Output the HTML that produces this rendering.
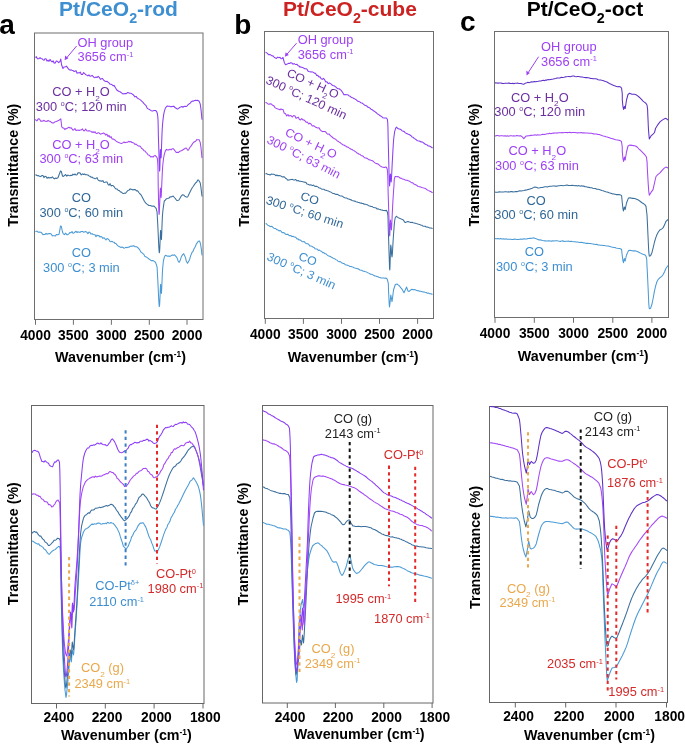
<!DOCTYPE html>
<html><head><meta charset="utf-8"><title>IR spectra</title>
<style>
html,body{margin:0;padding:0;background:#fff;width:685px;height:744px;overflow:hidden;}
svg{display:block;font-family:"Liberation Sans",sans-serif;will-change:transform;}
</style></head><body>
<svg width="685" height="744" viewBox="0 0 685 744" font-family="Liberation Sans, sans-serif">
<rect width="685" height="744" fill="#fff"/>
<text x="118.5" y="16.2" font-size="21" fill="#3d8fd1" text-anchor="middle" font-weight="bold"><tspan>Pt/CeO</tspan><tspan font-size="14.28" dy="6.51">2</tspan><tspan dy="-6.51">-rod</tspan></text>
<text x="349.9" y="16.2" font-size="21" fill="#cc2222" text-anchor="middle" font-weight="bold"><tspan>Pt/CeO</tspan><tspan font-size="14.28" dy="6.51">2</tspan><tspan dy="-6.51">-cube</tspan></text>
<text x="585" y="16.2" font-size="21" fill="#000" text-anchor="middle" font-weight="bold"><tspan>Pt/CeO</tspan><tspan font-size="14.28" dy="6.51">2</tspan><tspan dy="-6.51">-oct</tspan></text>
<text x="-0.8" y="33.9" font-size="28" fill="#000" text-anchor="start" font-weight="bold"><tspan>a</tspan></text>
<text x="234.3" y="33.6" font-size="28" fill="#000" text-anchor="start" font-weight="bold"><tspan>b</tspan></text>
<text x="460" y="31.4" font-size="28" fill="#000" text-anchor="start" font-weight="bold"><tspan>c</tspan></text>
<rect x="34.5" y="33" width="168.5" height="286.5" fill="none" stroke="#6e6e6e" stroke-width="1"/>
<line x1="35.5" y1="319.5" x2="35.5" y2="324.8" stroke="#6e6e6e" stroke-width="1"/>
<text x="35.5" y="340.1" font-size="13.8" fill="#000" text-anchor="middle" font-weight="bold"><tspan>4000</tspan></text>
<line x1="73.4" y1="319.5" x2="73.4" y2="324.8" stroke="#6e6e6e" stroke-width="1"/>
<text x="73.4" y="340.1" font-size="13.8" fill="#000" text-anchor="middle" font-weight="bold"><tspan>3500</tspan></text>
<line x1="111.4" y1="319.5" x2="111.4" y2="324.8" stroke="#6e6e6e" stroke-width="1"/>
<text x="111.4" y="340.1" font-size="13.8" fill="#000" text-anchor="middle" font-weight="bold"><tspan>3000</tspan></text>
<line x1="149.3" y1="319.5" x2="149.3" y2="324.8" stroke="#6e6e6e" stroke-width="1"/>
<text x="149.3" y="340.1" font-size="13.8" fill="#000" text-anchor="middle" font-weight="bold"><tspan>2500</tspan></text>
<line x1="187" y1="319.5" x2="187" y2="324.8" stroke="#6e6e6e" stroke-width="1"/>
<text x="187" y="340.1" font-size="13.8" fill="#000" text-anchor="middle" font-weight="bold"><tspan>2000</tspan></text>
<text x="120.5" y="362.2" font-size="14.3" fill="#000" text-anchor="middle" font-weight="bold"><tspan>Wavenumber (cm</tspan><tspan font-size="8.29" dy="-5.15">-1</tspan><tspan dy="5.15">)</tspan></text>
<text transform="translate(18.2 165.2) rotate(-90)" font-size="14.3" fill="#000" text-anchor="middle" font-weight="bold"><tspan>Transmittance (%)</tspan></text>
<rect x="264.5" y="31.5" width="169" height="287" fill="none" stroke="#6e6e6e" stroke-width="1"/>
<line x1="265.3" y1="318.5" x2="265.3" y2="323.8" stroke="#6e6e6e" stroke-width="1"/>
<text x="265.3" y="339.1" font-size="13.8" fill="#000" text-anchor="middle" font-weight="bold"><tspan>4000</tspan></text>
<line x1="303.4" y1="318.5" x2="303.4" y2="323.8" stroke="#6e6e6e" stroke-width="1"/>
<text x="303.4" y="339.1" font-size="13.8" fill="#000" text-anchor="middle" font-weight="bold"><tspan>3500</tspan></text>
<line x1="341.5" y1="318.5" x2="341.5" y2="323.8" stroke="#6e6e6e" stroke-width="1"/>
<text x="341.5" y="339.1" font-size="13.8" fill="#000" text-anchor="middle" font-weight="bold"><tspan>3000</tspan></text>
<line x1="379.5" y1="318.5" x2="379.5" y2="323.8" stroke="#6e6e6e" stroke-width="1"/>
<text x="379.5" y="339.1" font-size="13.8" fill="#000" text-anchor="middle" font-weight="bold"><tspan>2500</tspan></text>
<line x1="417.6" y1="318.5" x2="417.6" y2="323.8" stroke="#6e6e6e" stroke-width="1"/>
<text x="417.6" y="339.1" font-size="13.8" fill="#000" text-anchor="middle" font-weight="bold"><tspan>2000</tspan></text>
<text x="353.2" y="362" font-size="14.3" fill="#000" text-anchor="middle" font-weight="bold"><tspan>Wavenumber (cm</tspan><tspan font-size="8.29" dy="-5.15">-1</tspan><tspan dy="5.15">)</tspan></text>
<text transform="translate(248.6 165.1) rotate(-90)" font-size="14.3" fill="#000" text-anchor="middle" font-weight="bold"><tspan>Transmittance (%)</tspan></text>
<rect x="494.5" y="31.5" width="174" height="286" fill="none" stroke="#6e6e6e" stroke-width="1"/>
<line x1="495" y1="317.5" x2="495" y2="322.8" stroke="#6e6e6e" stroke-width="1"/>
<text x="495" y="338.3" font-size="13.8" fill="#000" text-anchor="middle" font-weight="bold"><tspan>4000</tspan></text>
<line x1="534.3" y1="317.5" x2="534.3" y2="322.8" stroke="#6e6e6e" stroke-width="1"/>
<text x="534.3" y="338.3" font-size="13.8" fill="#000" text-anchor="middle" font-weight="bold"><tspan>3500</tspan></text>
<line x1="573.5" y1="317.5" x2="573.5" y2="322.8" stroke="#6e6e6e" stroke-width="1"/>
<text x="573.5" y="338.3" font-size="13.8" fill="#000" text-anchor="middle" font-weight="bold"><tspan>3000</tspan></text>
<line x1="612.8" y1="317.5" x2="612.8" y2="322.8" stroke="#6e6e6e" stroke-width="1"/>
<text x="612.8" y="338.3" font-size="13.8" fill="#000" text-anchor="middle" font-weight="bold"><tspan>2500</tspan></text>
<line x1="651.9" y1="317.5" x2="651.9" y2="322.8" stroke="#6e6e6e" stroke-width="1"/>
<text x="651.9" y="338.3" font-size="13.8" fill="#000" text-anchor="middle" font-weight="bold"><tspan>2000</tspan></text>
<text x="583.2" y="361.1" font-size="14.3" fill="#000" text-anchor="middle" font-weight="bold"><tspan>Wavenumber (cm</tspan><tspan font-size="8.29" dy="-5.15">-1</tspan><tspan dy="5.15">)</tspan></text>
<text transform="translate(479.2 165) rotate(-90)" font-size="14.3" fill="#000" text-anchor="middle" font-weight="bold"><tspan>Transmittance (%)</tspan></text>
<path d="M35.5 231.7 L36.19 231.27 L37.13 231.24 L38.25 232.29 L39.48 232.06 L40.75 232.19 L42 233.26 L42.94 234.67 L43.93 234.53 L44.96 234.58 L46.01 233.4 L47.06 234.27 L48.08 233.75 L49.07 233.61 L50 233.55 L51.19 233.97 L52.36 235.85 L53.48 235.78 L54.53 235.85 L55.48 235.92 L56.3 234.46 L57.95 234.69 L59 234.3 L59.87 229.94 L60.5 226 L61.3 226.26 L62.5 232 L63.34 233.83 L64.4 234.62 L65.59 233.2 L66.8 234.65 L67.77 234.69 L68.78 233.92 L69.82 232.63 L70.89 232.83 L72 231.51 L72.97 233.31 L74 232.93 L75.04 231.98 L76.08 231.23 L77.08 232.57 L78 231.67 L79.16 232.35 L80.16 232.26 L81.2 231.53 L82.5 231.49 L83.43 232.11 L84.47 231.93 L85.58 231.54 L86.73 232.16 L87.88 233.67 L88.98 232.12 L90 232.41 L91.1 234.13 L92.15 233.64 L93.16 234.6 L94.13 234.79 L95.08 234.82 L96 236.69 L97.03 235.08 L97.98 235.85 L98.9 235.6 L99.89 236.93 L101 236.46 L101.9 237 L102.85 238.33 L103.86 237.72 L104.9 238.74 L105.94 240.03 L106.98 238.57 L108 238.95 L109 239.82 L110 241.59 L111 241.72 L112 241.31 L113 242.04 L114 242.2 L115 243.45 L116.01 243.54 L117.03 244.97 L118.05 245.89 L119.07 246.62 L120.07 246.95 L121.05 247.71 L122 246.92 L123.05 247.43 L124.03 248.24 L124.99 247.88 L125.96 247.25 L126.95 247.68 L128 247.14 L128.98 247.25 L130.04 246.43 L131.13 246.09 L132.22 246.2 L133.27 245.7 L134.24 245.96 L135.1 246.75 L136.63 246.75 L137.81 247.57 L139 248.95 L139.95 250.12 L140.87 251.95 L141.86 252.61 L143 253.75 L143.87 254.39 L144.81 256.4 L145.81 256.7 L146.84 257.41 L147.91 258.14 L149 258.97 L150.01 259.67 L151.11 260.69 L152.27 260.41 L153.4 260.66 L154.45 261.68 L155.38 262.06 L156.1 263.9 L157.13 267.41 L157.5 275 L157.74 278.94 L158 284.15 L158.27 289.98 L158.54 295.78 L158.81 300.92 L159.07 304.74 L159.3 306.6 L159.6 305.09 L159.88 300.05 L160.14 293.54 L160.38 287.61 L160.6 284.3 L161 289.1 L161.4 293.5 L161.58 291.09 L161.78 287.04 L161.99 282.03 L162.21 276.73 L162.45 271.83 L162.7 268 L163.4 260.8 L164.5 256.7 L165.41 255.32 L166.52 255.72 L167.74 256.25 L169 255.89 L170.08 256.41 L171.27 255.57 L172.47 255.1 L173.58 255.21 L174.5 254.84 L175.96 256.32 L177 257.7 L178.11 260.94 L179.2 262.4 L180.35 259.94 L181.5 256.44 L182.63 254.64 L183.7 253.69 L185.5 257.65 L186.39 261.54 L187.6 263.3 L188.5 261.54 L189.54 259.67 L190.72 255.63 L192 252.46 L192.97 251.44 L194.08 248.67 L195.23 246.79 L196.36 243.87 L197.37 242.66 L198.2 241.18 L199.64 241.11 L200.5 243.79 L201.39 249.61 L202 255.4" fill="none" stroke="#4a9ad6" stroke-width="1.05" stroke-linejoin="round"/>
<path d="M35.5 175.3 L36.19 174.8 L37.13 175.72 L38.25 175.53 L39.48 176.32 L40.75 176.6 L42 175.46 L42.94 175.47 L43.93 177.59 L44.96 176.34 L46.01 176.41 L47.06 178.37 L48.08 177.23 L49.07 178.21 L50 177.44 L51.19 177.96 L52.36 176.92 L53.48 178.2 L54.53 178.84 L55.48 178.03 L56.3 178.48 L57.95 177.7 L59 174.95 L60.5 171 L61.3 171.42 L62.5 176 L63.34 176.46 L64.4 175.55 L65.59 174.49 L66.8 176.18 L67.77 175.08 L68.78 175.51 L69.82 175.73 L70.89 175.17 L72 175.51 L72.97 174.12 L74 174.95 L75.04 173.95 L76.08 175.01 L77.08 174.77 L78 172.83 L79.16 172.87 L80.16 173.05 L81.2 174.92 L82.5 173.85 L83.43 174.5 L84.47 173.96 L85.58 174.75 L86.73 174.77 L87.88 175.02 L88.98 175.9 L90 176.2 L91.1 177.3 L92.15 177.08 L93.16 178 L94.13 178.15 L95.08 178.82 L96 178.41 L97.03 177.65 L97.98 179.81 L98.9 180.56 L99.89 180.93 L101 180.67 L101.9 181.41 L102.88 180.61 L103.91 182.52 L104.97 182.33 L106.01 182.08 L107.03 181.99 L108 184.35 L109.07 185.22 L110.1 183.62 L111.11 185.91 L112.09 185.56 L113.05 185.54 L114 186.51 L115.1 188.12 L116.17 189.1 L117.21 188.97 L118.25 190.45 L119.3 190.45 L120.36 191.89 L121.42 192.04 L122.49 193.2 L123.55 193.64 L124.6 193.11 L125.66 193.31 L126.74 191.73 L127.8 190.55 L128.83 190.35 L129.8 189.14 L130.93 189.14 L131.99 189.46 L133.01 189.92 L134 189.59 L135.29 189.62 L136.51 190.86 L137.7 190.78 L138.78 192.52 L139.82 193.75 L141 194.85 L142.06 196.75 L143.23 199.01 L144.43 201.29 L145.6 202.91 L146.67 203.91 L147.71 204.62 L148.79 205.48 L150 205.51 L150.97 205.75 L152.08 206.29 L153.24 205.91 L154.35 206.31 L155.34 207.7 L156.1 208.13 L157.07 212.16 L157.5 220 L157.71 223.48 L157.93 228.02 L158.17 233.2 L158.41 238.54 L158.64 243.62 L158.88 247.99 L159.1 251.2 L159.3 252.8 L159.6 251.35 L159.88 246.3 L160.14 239.73 L160.38 233.74 L160.6 230.4 L161.01 235.14 L161.4 239.6 L161.56 237.33 L161.72 233.51 L161.89 228.75 L162.07 223.67 L162.27 218.88 L162.5 215 L163.08 209.07 L163.73 204.31 L164.3 201 L165.3 200.06 L166.31 198.8 L167.63 198.56 L169 198.1 L170.01 196.88 L171.06 197 L172.13 196.61 L173.2 195.97 L174.31 197.49 L175.46 198.69 L176.55 200.3 L177.5 200.62 L178.79 200.12 L180 198.29 L181.12 196.15 L182.37 194.85 L183.6 194.91 L184.71 196.14 L185.8 196.82 L187.1 197.25 L188.03 196.24 L189.05 194.04 L190.14 191.83 L191.26 189.48 L192.4 187.54 L193.42 186.29 L194.54 184.34 L195.68 182.89 L196.76 181.99 L197.73 180.01 L198.5 179.98 L200.2 182.78 L200.86 186.84 L201.53 192.45 L202 196.5" fill="none" stroke="#3a6f9d" stroke-width="1.05" stroke-linejoin="round"/>
<path d="M35.5 119.3 L36.19 120.62 L37.13 120.78 L38.25 118.68 L39.48 118.99 L40.75 121.17 L42 121.11 L42.94 121.08 L43.93 120.28 L44.96 121.19 L46.01 121.32 L47.06 121.38 L48.08 120.4 L49.07 121.22 L50 121.22 L51.19 122.2 L52.36 123.03 L53.48 123.01 L54.53 122.04 L55.48 121.84 L56.3 121.4 L57.93 120.73 L59 120.27 L60.8 118.91 L61.27 122.75 L61.8 127 L62.59 127.78 L64 128.19 L64.78 129.59 L65.72 128.64 L66.76 128.69 L67.86 127.8 L68.96 127.22 L70 128.05 L70.99 127.68 L71.98 128.83 L72.97 130.31 L73.96 129.67 L74.97 128.56 L76 130.52 L77.04 130.29 L78.09 130.06 L79.16 130.41 L80.24 129.95 L81.35 129.99 L82.5 128.92 L83.52 130.7 L84.58 130.85 L85.67 129.03 L86.77 130.85 L87.86 131.03 L88.95 130.65 L90 131.08 L91.03 131.2 L92.05 132.55 L93.06 131.67 L94.05 132.74 L95.04 131.71 L96.03 133.29 L97 133.54 L98.13 132.61 L99.24 133.07 L100.34 134.17 L101.43 133.85 L102.52 133.47 L103.6 133.08 L104.69 133.7 L105.8 135.09 L106.9 134.14 L107.98 136.55 L109.02 135.38 L110 137.57 L111.1 136.66 L112.13 139.06 L113.12 139.13 L114.07 139.33 L115 140.02 L116.11 141.05 L117.17 141.86 L118.21 142.28 L119.3 142.65 L120.42 143.14 L121.56 143.51 L122.74 142.88 L124 141.99 L125.1 142.69 L126.27 142.32 L127.47 142.3 L128.66 141.3 L129.8 141.99 L130.88 141.42 L131.91 142.55 L132.93 142.62 L133.96 143.12 L135 144.45 L136.1 144.06 L137.23 145.11 L138.36 146.09 L139.43 145.96 L140.4 146.55 L141.71 148.48 L142.82 149.13 L144 150.76 L145.02 151.01 L146.09 152.57 L147.16 153.46 L148.2 155.01 L149.44 155.21 L150.64 156.93 L152 156.43 L153.03 157.17 L154.22 155.72 L155.42 155.62 L156.49 156.85 L157.3 158.29 L157.67 161.68 L157.9 165.69 L158.04 170.41 L158.11 175.52 L158.15 180.7 L158.21 185.63 L158.3 190 L158.44 195.05 L158.56 200.52 L158.68 205.8 L158.8 210.28 L158.94 213.35 L159.1 214.4 L159.29 212.54 L159.52 208.07 L159.76 202.19 L159.99 196.11 L160.21 191.01 L160.4 188.1 L160.72 193.13 L161.1 197.4 L161.26 195.22 L161.44 191.8 L161.63 187.49 L161.84 182.65 L162.06 177.63 L162.3 172.78 L162.54 168.45 L162.8 165 L163.53 158.52 L164.35 154.1 L165.3 151.1 L166.43 149.39 L167.69 150.09 L169 149.86 L170.01 149.15 L171.06 149.95 L172.13 148.75 L173.2 148.74 L174.27 149.84 L175.34 151.31 L176.42 152.55 L177.5 152.34 L178.6 152.38 L179.7 151.32 L180.8 150.93 L181.9 150.52 L183.04 149.72 L184.21 149.06 L185.3 148.19 L186.2 148.03 L188 150.45 L188.9 149.21 L189.99 147.26 L191.18 145.9 L192.4 143.88 L193.43 142.52 L194.55 141.81 L195.67 141.32 L196.71 139.65 L197.6 139.8 L199.11 139.67 L200.2 142.42 L200.93 147.25 L201.56 153.55 L202 158.1" fill="none" stroke="#a346f6" stroke-width="1.05" stroke-linejoin="round"/>
<path d="M35.5 57.6 L36.3 56.68 L37.44 58.83 L38.73 58.79 L40 57.61 L40.97 58.54 L41.96 58.72 L42.98 59.62 L43.99 60.33 L45 58.66 L46 58.71 L47 61.17 L48 60.22 L49 61.33 L50 59.41 L51.02 60.89 L52.07 61.92 L53.11 60.8 L54.1 63.05 L55 63.12 L56.32 61.04 L57.48 61.3 L58.5 62.62 L59.82 61.8 L60.8 58.97 L61.6 65 L63 68.5 L64.06 66.98 L65.5 66.78 L66.45 66.18 L67.53 67.61 L68.72 69.21 L70 70.19 L70.91 69.84 L71.87 70.16 L72.88 70.43 L73.91 71.37 L74.95 71.15 L76 70.66 L77.04 73.2 L78.09 72.64 L79.16 73.09 L80.24 72.03 L81.35 74.52 L82.5 74.41 L83.52 72.58 L84.58 73.44 L85.67 74.79 L86.77 75.04 L87.86 75.96 L88.95 74.8 L90 76.22 L91.03 76.05 L92.05 75.3 L93.06 76.36 L94.05 77.47 L95.04 77.65 L96.03 77 L97 77.55 L98.13 76.38 L99.24 77.36 L100.34 79.33 L101.43 78.7 L102.52 78.49 L103.6 80.04 L104.69 81.01 L105.8 81.5 L106.9 81.26 L107.98 82.06 L109.02 82.89 L110 84.28 L111.1 84.33 L112.13 84.76 L113.12 85.84 L114.07 85.36 L115 86.95 L116.11 88.84 L117.17 90.32 L118.21 90.93 L119.3 91.57 L120.42 91.98 L121.56 92.91 L122.74 93.86 L124 93.82 L125.1 93.5 L126.27 93.63 L127.47 92.58 L128.66 92.73 L129.8 93.34 L130.88 93.33 L131.91 93.86 L132.93 94.44 L133.96 95.6 L135 96.85 L136.1 96.37 L137.23 97.95 L138.36 98.63 L139.43 99.37 L140.4 99.89 L141.71 101.17 L142.82 102.1 L144 103.57 L145.02 104.71 L146.09 105.72 L147.16 108.1 L148.2 108.88 L149.44 109.41 L150.64 110.39 L152 110.98 L153.03 110.86 L154.21 110.47 L155.4 110.53 L156.48 111.24 L157.3 113.23 L157.74 116.1 L158.01 120.07 L158.16 124.74 L158.26 129.8 L158.35 134.99 L158.5 140 L158.67 144.68 L158.83 150.12 L158.99 155.8 L159.15 161.24 L159.31 165.93 L159.46 169.39 L159.6 171.1 L159.78 169.67 L159.95 164.81 L160.1 158.5 L160.25 152.74 L160.4 149.5 L160.71 154.46 L161.1 158 L161.23 155.75 L161.37 152.29 L161.51 147.95 L161.67 143.08 L161.84 138 L162.04 133.08 L162.25 128.63 L162.5 125 L163.05 119.33 L163.66 114.69 L164.4 111.04 L165.3 108.3 L166.21 106.93 L167.29 105.92 L168.43 106.16 L169.53 106.24 L170.5 106.7 L171.83 106.63 L172.96 106.27 L174 106.36 L175.19 107.85 L176.6 108.51 L177.49 109.15 L178.53 108.62 L179.66 107.45 L180.8 106.89 L181.9 106.52 L182.94 107.21 L183.98 106.49 L185.02 106.2 L186.06 106.59 L187.1 105.81 L188.16 104.71 L189.22 103.77 L190.28 103.08 L191.34 101.63 L192.4 101.03 L193.49 101.13 L194.61 100.57 L195.71 100.32 L196.73 100.56 L197.6 100.23 L199.11 101.25 L200.2 103.91 L200.93 108.89 L201.56 115.17 L202 119.7" fill="none" stroke="#8b3cf7" stroke-width="1.05" stroke-linejoin="round"/>
<text transform="translate(77.5 47.2) scale(1.07 1)" font-size="12" fill="#9d3ff5" text-anchor="start" font-weight="normal"><tspan>OH group</tspan></text>
<text transform="translate(77.5 61.4) scale(1.07 1)" font-size="12" fill="#9d3ff5" text-anchor="start" font-weight="normal"><tspan>3656 cm</tspan><tspan font-size="6.96" dy="-4.32">-1</tspan></text>
<line x1="76.6" y1="46" x2="66.5" y2="58" stroke="#9d3ff5" stroke-width="1"/>
<path d="M64.6 60.2 L65.2 55.6 L68.4 58.3 Z" fill="#9d3ff5"/>
<text transform="translate(81 96) scale(1.07 1)" font-size="12" fill="#6c2fa0" text-anchor="middle" font-weight="normal"><tspan>CO + H</tspan><tspan font-size="7.68" dy="4.56">2</tspan><tspan dy="-4.56">O</tspan></text>
<text transform="translate(81.3 110.5) scale(1.07 1)" font-size="12" fill="#6c2fa0" text-anchor="middle" font-weight="normal"><tspan>300 </tspan><tspan font-size="6.6" dy="-4.8">o</tspan><tspan dy="4.8">C</tspan><tspan>; 120 min</tspan></text>
<text transform="translate(81 149.2) scale(1.07 1)" font-size="12" fill="#9d3ff5" text-anchor="middle" font-weight="normal"><tspan>CO + H</tspan><tspan font-size="7.68" dy="4.56">2</tspan><tspan dy="-4.56">O</tspan></text>
<text transform="translate(81.3 163.1) scale(1.07 1)" font-size="12" fill="#9d3ff5" text-anchor="middle" font-weight="normal"><tspan>300 </tspan><tspan font-size="6.6" dy="-4.8">o</tspan><tspan dy="4.8">C</tspan><tspan>; 63 min</tspan></text>
<text transform="translate(81.4 201.8) scale(1.07 1)" font-size="12" fill="#2f6797" text-anchor="middle" font-weight="normal"><tspan>CO</tspan></text>
<text transform="translate(81.3 216.7) scale(1.07 1)" font-size="12" fill="#2f6797" text-anchor="middle" font-weight="normal"><tspan>300 </tspan><tspan font-size="6.6" dy="-4.8">o</tspan><tspan dy="4.8">C</tspan><tspan>; 60 min</tspan></text>
<text transform="translate(81.4 256.6) scale(1.07 1)" font-size="12" fill="#3d8ed0" text-anchor="middle" font-weight="normal"><tspan>CO</tspan></text>
<text transform="translate(81.4 271.9) scale(1.07 1)" font-size="12" fill="#3d8ed0" text-anchor="middle" font-weight="normal"><tspan>300 </tspan><tspan font-size="6.6" dy="-4.8">o</tspan><tspan dy="4.8">C</tspan><tspan>; 3 min</tspan></text>
<path d="M265.5 223.8 L266.36 223.67 L267.61 225.11 L269 225.71 L270.08 226.64 L271.24 226.27 L272.45 226.84 L273.7 228.13 L274.7 228.53 L275.72 228.55 L276.77 229.62 L277.86 229.78 L279 230.89 L280.01 230.48 L281.08 231.18 L282.18 232.69 L283.29 232.48 L284.37 232.88 L285.4 234.13 L286.56 234.4 L287.68 234.19 L288.77 235.19 L289.87 235.78 L291 235.53 L291.98 236.6 L292.97 236.24 L293.98 236.92 L294.99 236.96 L296 237.54 L297 239.07 L298 238.74 L299.01 240.06 L300.02 239.81 L301.02 240.58 L302.02 241.49 L303 241.76 L304.17 241.61 L305.32 242.94 L306.46 243.68 L307.59 243.71 L308.7 244.23 L309.77 245.94 L310.8 246.02 L311.82 246.16 L312.88 247.11 L314 247.41 L315.01 248.76 L316.08 248.92 L317.18 248.94 L318.29 250.52 L319.37 250.07 L320.4 250.89 L321.56 251.18 L322.67 252.79 L323.76 252.52 L324.86 253.71 L326 253.73 L327 254.82 L328.04 255.67 L329.09 256.02 L330.14 256.51 L331.15 257.07 L332.1 257.56 L333.41 258.39 L334.62 258.71 L335.8 259.63 L337 260.12 L337.98 261.08 L338.94 261.65 L339.92 261.56 L340.93 262.13 L342 263.04 L342.93 263.38 L343.89 263.43 L344.88 264.35 L345.89 264.95 L346.93 265.02 L348 265.39 L348.95 265.91 L349.93 266.53 L350.93 266.41 L351.95 266.8 L352.97 267.07 L353.99 267.73 L355 267.98 L355.99 268.18 L356.96 268.61 L357.93 268.69 L358.9 269.23 L359.9 270.05 L360.93 270.15 L362 270.35 L362.97 271.19 L363.97 271.21 L364.99 271.57 L366.04 271.86 L367.1 272.4 L368.18 272.89 L369.28 273.37 L370.4 274.26 L371.43 274.23 L372.49 274.63 L373.59 275.3 L374.71 275.94 L375.82 275.92 L376.92 276.64 L377.99 276.74 L379.02 277.23 L380 277.57 L381.23 278.08 L382.46 278.06 L383.66 277.93 L384.78 278.23 L385.81 278.09 L386.69 278.51 L387.4 279.62 L388.35 283.71 L388.5 290 L388.75 294.46 L388.99 299.86 L389.23 304.55 L389.5 306.9 L390.14 301.59 L390.8 295 L392 301.6 L392.71 296.56 L393.5 290 L395.3 284.5 L397 284.03 L398.09 284.92 L399.3 285.77 L400.67 287.65 L402 289.08 L403.01 291.04 L404 292.7 L405.34 289.75 L406.6 287.09 L408 291 L409.2 291.43 L410.32 290.24 L412 289.29 L412.91 289.64 L413.95 289.42 L415.1 289.78 L416.32 290.24 L417.6 290.63 L418.56 290.75 L419.58 291.29 L420.63 291.19 L421.72 291.56 L422.82 291.89 L423.92 291.97 L425 292.31 L426.14 292.53 L427.38 293.23 L428.64 293.13 L429.86 293.78 L430.98 293.73 L431.91 294.24 L432.6 294.3" fill="none" stroke="#4a9ad6" stroke-width="1.05" stroke-linejoin="round"/>
<path d="M265.5 173.8 L266.36 173.54 L267.61 174.4 L269 174.59 L270.1 174.99 L271.3 174.07 L272.52 174.3 L273.7 174.34 L274.79 174.66 L275.83 175.71 L276.89 174.98 L278 175.85 L278.98 175.5 L280.02 175.75 L281.07 176.11 L282.08 176.95 L283 176.87 L284.31 176.76 L285.46 178.2 L286.5 178.73 L287.76 180.13 L289 179.9 L290.02 179.73 L291.14 179.55 L292.4 179.39 L293.44 179.92 L294.54 180 L295.73 179.52 L297 180.86 L298.11 180.57 L299.3 181.31 L300.54 181.33 L301.75 181.44 L302.9 181.68 L303.95 182.14 L304.93 182.33 L305.89 182.39 L306.9 183.91 L308 184.28 L309.03 184.93 L310.13 184.81 L311.28 184.96 L312.43 185.65 L313.55 185.04 L314.6 186.28 L315.74 186.36 L316.81 186.39 L317.84 186.89 L318.89 187.87 L320 187.91 L320.99 188.63 L322.02 189.27 L323.07 189.35 L324.13 189.33 L325.18 190.3 L326.2 190.28 L327.4 190.72 L328.59 191.09 L329.76 191.79 L330.9 192.11 L332 192.91 L333.05 193.48 L334.06 193.43 L335.04 193.99 L336.01 194.46 L337 194.18 L337.95 194.58 L338.86 195.36 L339.78 195.71 L340.81 195.95 L342 196.06 L342.86 196.58 L343.79 197.27 L344.78 197.69 L345.81 198.05 L346.87 198.06 L347.93 198.94 L348.98 199.02 L350 199.65 L351.01 199.62 L352.02 200.57 L353.04 200.68 L354.06 201.12 L355.07 201.12 L356.06 201.74 L357.04 202.04 L358 202.36 L359.06 202.54 L360.1 203.1 L361.12 203.12 L362.12 203.37 L363.11 203.56 L364.1 204.22 L365.1 204.13 L366.27 204.59 L367.45 204.88 L368.62 205.69 L369.77 206.04 L370.9 206.44 L372 206.48 L373.06 207.14 L374.1 207.46 L375.12 207.67 L376.11 207.98 L377.07 209.02 L378 208.74 L379.07 209.2 L380.1 209.47 L381.09 209.98 L382.05 209.9 L383 210.48 L384.22 210.46 L385.46 210.62 L386.56 210.38 L387.4 212.18 L387.87 215.32 L388.06 219.39 L388.15 224.34 L388.3 230 L388.44 233.82 L388.59 238.26 L388.75 243.05 L388.9 247.9 L389.05 252.53 L389.18 256.66 L389.3 260 L389.55 268.44 L389.8 270 L389.94 267.43 L390.09 262.89 L390.26 257.38 L390.43 251.89 L390.62 247.43 L390.8 245 L391.17 247.52 L391.57 254.15 L392 257 L392.28 254.7 L392.56 250.43 L392.86 245.11 L393.18 239.66 L393.5 235 L393.88 229.89 L394.26 224.84 L394.71 220.5 L395.3 217.5 L396.37 216.27 L397.66 217.37 L399 218.01 L400.07 218.41 L401.22 219.11 L402.31 219.46 L403.2 219.87 L405 222.5 L405.86 222.37 L407.1 221.67 L408.11 221.43 L409.33 221.97 L410.66 222.41 L412 222.33 L413.05 222.83 L414.1 222.96 L415.2 223.19 L416.35 223.57 L417.6 223.89 L418.56 224.3 L419.58 224.41 L420.63 225.02 L421.72 225.16 L422.82 225.99 L423.92 226.24 L425 226.15 L426.14 227.03 L427.38 226.97 L428.64 227.52 L429.86 227.9 L430.98 228.04 L431.91 228.27 L432.6 228.6" fill="none" stroke="#3a6f9d" stroke-width="1.05" stroke-linejoin="round"/>
<path d="M265.5 102.3 L266.36 102.67 L267.61 103.69 L269 104.37 L270.12 103.7 L271.35 103.93 L272.58 105.27 L273.7 105.6 L274.98 107.61 L276.13 108.21 L277.2 108.72 L278.63 109.23 L280 109.85 L281.01 108.84 L282.04 109.58 L283 109.46 L284.23 113.22 L285.4 113.53 L286.65 115.94 L288 114.56 L289 116.1 L290.07 115.46 L291.2 115.79 L292.36 117.02 L293.59 115.52 L295 116.03 L296.01 118.23 L297.13 117.69 L298.29 117.16 L299.44 119.55 L300.5 119.88 L301.71 118.61 L302.86 119.91 L303.95 119.89 L305 120.89 L306.21 122.32 L307.33 122.05 L308.7 124.03 L309.76 123.16 L310.97 124.02 L312.24 126.05 L313.48 125.73 L314.6 126.32 L315.79 127.33 L316.86 127.63 L317.9 127.98 L319 127.77 L320.21 129.88 L321.47 131 L322.72 131.62 L323.9 131.56 L324.98 131.55 L326 132.26 L326.99 133.69 L328 134.38 L329.01 133.87 L330 135.24 L331.02 136.1 L332.1 137.01 L333.27 138.09 L334.49 138.71 L335.75 139.23 L337 140.76 L337.98 141.16 L338.94 141.96 L339.92 142.45 L340.93 143.33 L342 144.01 L342.93 144.89 L343.89 144.91 L344.88 145.81 L345.89 146.07 L346.93 147.06 L348 147.13 L348.97 147.87 L349.99 148.5 L351.03 149.33 L352.09 149.47 L353.12 150.38 L354.1 150.74 L355 151.33 L356.13 152.14 L357.14 153.13 L358.09 153.32 L359.03 154.27 L360 154.23 L361.02 155.48 L362.04 155.7 L363.07 156.23 L364.09 157.31 L365.1 158.03 L366.34 157.94 L367.56 158.71 L368.77 159.65 L370 159.87 L370.95 160.24 L371.85 160.48 L372.78 160.95 L373.81 161.94 L375 162.89 L375.88 163.42 L376.88 163.63 L377.95 163.92 L379.05 164.85 L380.15 165.91 L381.2 166.6 L382.16 167.03 L383 167.18 L384.39 167.53 L385.54 166.98 L386.46 167.24 L387.2 169.01 L387.55 172.06 L387.77 175.87 L387.9 180.34 L387.99 185.2 L388.07 190.18 L388.2 195 L388.35 199.23 L388.5 203.82 L388.65 208.56 L388.81 213.25 L388.95 217.69 L389.08 221.67 L389.2 225 L389.46 233.38 L389.7 236 L389.88 233.29 L390.07 228.06 L390.29 222.8 L390.5 220 L390.92 225.56 L391.4 230 L391.59 227.8 L391.8 224.07 L392.02 219.38 L392.25 214.26 L392.48 209.28 L392.7 205 L392.96 200.5 L393.23 196.09 L393.49 191.93 L393.75 188.18 L394 185 L394.26 179.39 L395.1 176.5 L395.83 176.56 L396.78 176.66 L397.86 176.49 L399 177.16 L400.11 178.19 L401.1 178.12 L402.4 179.08 L403.63 179.15 L404.81 179.71 L406 180.16 L407.15 180.2 L408.25 180.67 L409.43 181.14 L410.8 182.15 L411.73 182.67 L412.78 182.83 L413.88 184.11 L415.02 184.43 L416.12 184.95 L417.17 185.69 L418.1 186.58 L419.49 186.74 L420.7 187.03 L421.81 187.44 L422.9 187.77 L423.94 188.04 L424.9 188.25 L425.89 188.94 L427 189.82 L428.11 190.37 L429.4 190.96 L430.69 191.54 L431.81 192.23 L432.6 192.8" fill="none" stroke="#a346f6" stroke-width="1.05" stroke-linejoin="round"/>
<path d="M265.5 52.3 L266.29 52.57 L267.43 53.34 L268.73 54.78 L270 54.42 L270.98 55.1 L272.01 55.95 L273.05 55.73 L274.08 57.06 L275.1 57.79 L276.38 58.49 L277.68 57.13 L278.91 57.68 L280 57.3 L281.2 58.84 L282.2 58.49 L283 57.39 L284.3 62.5 L285.5 64.66 L286.74 64.33 L288.3 63.34 L289.42 63.45 L290.64 62.82 L292 62.93 L292.93 64.32 L293.95 63.56 L295.01 64.14 L296.04 64.55 L297 64.37 L298.05 65.65 L299.01 65.93 L299.97 67.15 L301 66.84 L302.16 67.58 L303.39 67.81 L304.62 68.72 L305.8 68.81 L306.88 68.92 L307.91 71.01 L308.94 71.52 L310 71.75 L311.1 72.08 L312.22 71.87 L313.38 72.37 L314.6 73.24 L315.62 73.36 L316.68 75.52 L317.77 75.37 L318.88 77.04 L320 76.75 L321.13 78.79 L322.29 79.38 L323.45 78.37 L324.63 79.67 L325.8 82 L327 81.79 L328.23 83.64 L329.45 83.06 L330.62 83.62 L331.7 84.7 L332.87 85.54 L333.91 85.79 L334.91 86.29 L336 87.17 L336.99 88.25 L338.05 88.67 L339.12 88.76 L340.12 89.51 L341 90.08 L342.54 92.27 L343.9 94.74 L345 94.54 L346.17 94.72 L347.4 94.76 L348.34 95.03 L349.3 96.1 L350.33 96.36 L351.5 97.51 L352.59 97.7 L353.79 98.6 L355.05 99.1 L356.27 99.8 L357.4 100.98 L358.64 101.53 L359.77 101.76 L360.87 102.84 L362 102.97 L363.18 103.84 L364.37 104.97 L365.55 105.57 L366.7 105.88 L367.81 107.3 L368.9 107.37 L369.96 108.1 L371 109.22 L372.26 109.81 L373.47 110.75 L374.9 111.66 L375.98 112.46 L377.2 113.73 L378.47 114.36 L379.67 115.48 L380.7 116 L381.98 116.87 L382.99 117.83 L384 117.99 L385.22 117.95 L386.46 118.06 L387.4 119.45 L387.72 122.33 L387.9 125.78 L388 129.93 L388.08 134.7 L388.2 140 L388.31 143.84 L388.43 148.28 L388.55 153.1 L388.67 158.08 L388.79 162.99 L388.9 167.59 L389.01 171.67 L389.1 175 L389.36 183.44 L389.6 186 L389.84 182.96 L390.12 177.37 L390.4 174 L390.77 178.62 L391.2 182 L391.41 179.52 L391.64 175.36 L391.89 170.24 L392.14 164.88 L392.4 160 L392.66 155.41 L392.92 150.62 L393.19 145.93 L393.48 141.63 L393.8 138 L394.65 131.64 L395.7 128.1 L396.57 127.18 L397.56 128.31 L398.7 128.95 L399.69 128.95 L400.77 129.48 L401.9 130.56 L403 131.35 L404.04 131.38 L405.07 132.62 L406.11 133.22 L407.2 133.68 L408.36 134.24 L409.56 134.72 L410.78 135.43 L412 136.97 L413.19 137.28 L414.38 138.6 L415.6 139.18 L416.9 140.46 L417.86 140.75 L418.89 140.92 L419.95 141.22 L421 142.02 L422 141.87 L422.9 142.38 L424.02 143.23 L424.97 144.04 L425.91 144.44 L427 144.82 L428.11 145.96 L429.4 146.1 L430.69 146.66 L431.81 147.48 L432.6 148.1" fill="none" stroke="#8b3cf7" stroke-width="1.05" stroke-linejoin="round"/>
<text transform="translate(297.7 44) scale(1.07 1)" font-size="12" fill="#9d3ff5" text-anchor="start" font-weight="normal"><tspan>OH group</tspan></text>
<text transform="translate(297.7 58.6) scale(1.07 1)" font-size="12" fill="#9d3ff5" text-anchor="start" font-weight="normal"><tspan>3656 cm</tspan><tspan font-size="6.96" dy="-4.32">-1</tspan></text>
<line x1="296.6" y1="43.1" x2="286.8" y2="54.4" stroke="#9d3ff5" stroke-width="1"/>
<path d="M284.9 56.8 L285.6 52.2 L288.8 54.9 Z" fill="#9d3ff5"/>
<text transform="translate(286 75.8) rotate(24.6) scale(1.03 1)" font-size="12" fill="#6c2fa0" text-anchor="start" font-weight="normal"><tspan>CO + H</tspan><tspan font-size="7.68" dy="4.56">2</tspan><tspan dy="-4.56">O</tspan></text>
<text transform="translate(265 83) rotate(24.7) scale(1.03 1)" font-size="12" fill="#6c2fa0" text-anchor="start" font-weight="normal"><tspan>300 </tspan><tspan font-size="6.6" dy="-4.8">o</tspan><tspan dy="4.8">C</tspan><tspan>; 120 min</tspan></text>
<text transform="translate(284.3 134.9) rotate(25.7) scale(1.03 1)" font-size="12" fill="#9d3ff5" text-anchor="start" font-weight="normal"><tspan>CO + H</tspan><tspan font-size="7.68" dy="4.56">2</tspan><tspan dy="-4.56">O</tspan></text>
<text transform="translate(265.9 142.4) rotate(26.8) scale(1.03 1)" font-size="12" fill="#9d3ff5" text-anchor="start" font-weight="normal"><tspan>300 </tspan><tspan font-size="6.6" dy="-4.8">o</tspan><tspan dy="4.8">C</tspan><tspan>; 63 min</tspan></text>
<text transform="translate(299.7 199.6) rotate(17) scale(1.03 1)" font-size="12" fill="#2f6797" text-anchor="start" font-weight="normal"><tspan>CO</tspan></text>
<text transform="translate(265.2 203.5) rotate(18) scale(1.03 1)" font-size="12" fill="#2f6797" text-anchor="start" font-weight="normal"><tspan>300 </tspan><tspan font-size="6.6" dy="-4.8">o</tspan><tspan dy="4.8">C</tspan><tspan>; 60 min</tspan></text>
<text transform="translate(297.7 259.6) rotate(20) scale(1.03 1)" font-size="12" fill="#3d8ed0" text-anchor="start" font-weight="normal"><tspan>CO</tspan></text>
<text transform="translate(266.1 259.6) rotate(24) scale(1.03 1)" font-size="12" fill="#3d8ed0" text-anchor="start" font-weight="normal"><tspan>300 </tspan><tspan font-size="6.6" dy="-4.8">o</tspan><tspan dy="4.8">C</tspan><tspan>; 3 min</tspan></text>
<path d="M495 238.5 L495.76 238.67 L496.75 238.8 L497.93 238.47 L499.25 239.03 L500.66 238.62 L502.12 238.98 L503.59 238.7 L505 239.15 L506.11 238.83 L507.26 239.21 L508.42 239.27 L509.61 239.35 L510.81 239.2 L512.03 239.49 L513.26 239.59 L514.5 239.08 L515.75 239.33 L517 239.57 L518.3 239.41 L519.67 239.17 L521.09 239.02 L522.53 239.32 L523.96 238.71 L525.36 239.01 L526.69 238.97 L527.92 238.46 L529.04 238.47 L530 238.38 L532.2 238.23 L533.47 237.85 L534.6 238.14 L536.21 238.85 L538 239.39 L538.92 240 L539.88 239.75 L540.97 239.99 L542.31 240.53 L544 240.78 L545.01 240.86 L546.14 241.02 L547.35 240.99 L548.65 240.67 L550 240.99 L551.39 241.13 L552.81 240.66 L554.22 240.93 L555.63 240.76 L557 240.79 L558.24 241.02 L559.48 241.16 L560.75 241.36 L562.02 240.87 L563.3 241.12 L564.58 241.44 L565.87 241.33 L567.15 241.22 L568.44 241.1 L569.72 241.4 L571 241.26 L572.28 241.59 L573.56 241.71 L574.85 241.68 L576.13 242.07 L577.42 241.98 L578.7 242.18 L579.98 242.56 L581.25 242.37 L582.52 242.5 L583.76 242.89 L585 242.96 L586.35 243.39 L587.68 243.18 L589 243.42 L590.32 243.4 L591.62 243.81 L592.92 243.9 L594.21 244.15 L595.48 244.51 L596.75 244.25 L598 244.99 L599.27 245 L600.56 245.15 L601.86 245.25 L603.16 245.45 L604.44 245.59 L605.68 245.77 L606.87 245.9 L608 246.1 L609.05 246.27 L610 246.45 L611.59 246.94 L612.85 247.21 L613.92 247.46 L614.92 247.56 L616 247.93 L617.54 248.27 L619.13 248.5 L620.55 248.75 L621.6 249.54 L622.3 256 L623 261 L623.5 262.7 L624.3 258.5 L625.2 261 L626.5 255 L628.5 250.62 L630.12 250.29 L632 250.76 L633.26 250.87 L634.57 250.71 L636 251.07 L637.18 251.43 L638.44 251.96 L639.73 252.8 L641 253.37 L642.34 254.06 L643.75 254.44 L645.03 254.94 L646 256.22 L646.74 259.71 L647 266 L647.23 269.98 L647.47 274.83 L647.72 280.1 L647.96 285.31 L648.2 290 L648.51 297.53 L648.82 304.47 L649.3 308.8 L650.56 308.31 L652 303.98 L653.26 297.74 L654.5 290.9 L655.72 285.62 L657 281.5 L658.47 279.09 L660 277.56 L661.5 276.57 L663 274.77 L664.56 271.73 L666 268.32 L668 265.5" fill="none" stroke="#4a9ad6" stroke-width="1.05" stroke-linejoin="round"/>
<path d="M495 192 L495.76 192.26 L496.75 192.28 L497.93 192.26 L499.25 191.78 L500.66 192.09 L502.12 191.99 L503.59 192.04 L505 191.78 L506.11 191.79 L507.26 191.93 L508.42 191.78 L509.61 191.91 L510.81 191.62 L512.03 191.62 L513.26 191.94 L514.5 191.69 L515.75 191.64 L517 191.64 L518.3 191.24 L519.67 190.85 L521.09 191.05 L522.53 190.67 L523.96 190.43 L525.36 190.13 L526.69 190.05 L527.92 189.41 L529.04 189.39 L530 188.92 L532.2 188.26 L533.47 187.6 L534.6 186.99 L536.21 187.24 L538 187.98 L538.92 188.07 L539.88 187.83 L540.97 187.53 L542.31 187.41 L544 186.91 L545.01 186.8 L546.14 186.78 L547.35 186.96 L548.65 186.47 L550 186.31 L551.39 186.18 L552.81 186.03 L554.22 186.06 L555.63 186.14 L557 186.19 L558.24 185.81 L559.48 185.74 L560.75 185.6 L562.02 185.52 L563.3 185.71 L564.58 185.5 L565.87 185.25 L567.15 185.11 L568.44 185.48 L569.72 185.42 L571 185.5 L572.28 185.17 L573.56 185.41 L574.85 185.7 L576.13 185.58 L577.42 185.89 L578.7 185.54 L579.98 186.15 L581.25 185.74 L582.52 186.11 L583.76 186.04 L585 186.69 L586.35 186.82 L587.68 187.23 L589 187.38 L590.32 187.73 L591.62 187.77 L592.92 188.33 L594.21 188.49 L595.48 188.56 L596.75 189.26 L598 189.23 L599.27 189.46 L600.56 189.89 L601.86 190.4 L603.16 190.73 L604.44 191.36 L605.68 191.77 L606.87 191.94 L608 192.27 L609.05 192.72 L610 192.9 L611.59 193.46 L612.85 193.88 L613.92 193.97 L614.92 194.24 L616 194.62 L617.54 194.62 L619.13 194.58 L620.55 194.92 L621.6 195.59 L622.3 203 L623 209 L623.5 211 L624.3 207 L625.2 209.5 L626.5 203 L628.5 197.9 L630.12 197.87 L632 198.36 L633.26 198.33 L634.57 198.49 L636 198.9 L637.18 199.43 L638.44 200.08 L639.73 201 L641 201.97 L642.34 202.98 L643.75 203.82 L645.03 204.9 L646 206.4 L647 215 L647.23 219.1 L647.47 224.25 L647.72 229.86 L647.96 235.31 L648.2 240 L648.51 246.76 L648.82 252.53 L649.3 256.1 L650.56 255.79 L652 252.44 L653.26 247.44 L654.5 242 L655.72 237.89 L657 234.5 L658.47 231.74 L660 229.82 L661.5 229.12 L663 227.92 L664.56 224.84 L666 221.27 L668 219.5" fill="none" stroke="#3a6f9d" stroke-width="1.05" stroke-linejoin="round"/>
<path d="M495 135.7 L495.76 135.99 L496.75 135.53 L497.93 135.49 L499.25 136.11 L500.66 135.66 L502.12 135.65 L503.59 135.98 L505 135.81 L506.16 136.13 L507.4 135.72 L508.71 136.13 L510.04 135.72 L511.38 135.85 L512.68 136.02 L513.93 135.85 L515.08 135.97 L516.12 135.83 L517 135.43 L518.97 135.91 L520.05 135.78 L521 135.89 L522.51 137.18 L523.8 138.61 L526 136.05 L526.93 136.04 L528.08 135.76 L529.38 135.73 L530.79 135.37 L532.23 135.33 L533.65 135.18 L535 134.86 L536.27 135.17 L537.51 134.71 L538.75 134.93 L540 134.96 L541.28 134.71 L542.61 134.31 L544 134.6 L545.11 134.38 L546.21 133.94 L547.33 133.69 L548.48 133.8 L549.66 133.32 L550.89 133.68 L552.18 133.27 L553.55 133.13 L555 132.95 L556.07 133.03 L557.21 133.11 L558.39 132.69 L559.62 132.67 L560.88 132.75 L562.16 132.53 L563.46 132.67 L564.76 132.6 L566.06 132.51 L567.34 132.63 L568.6 132.53 L569.82 132.26 L571 132.8 L572.35 132.42 L573.68 132.48 L574.99 132.48 L576.28 132.83 L577.56 132.88 L578.82 132.66 L580.07 132.65 L581.31 132.53 L582.54 133.08 L583.77 132.72 L585 133.03 L586.34 133 L587.66 133.08 L588.96 133.19 L590.25 133.19 L591.53 133.2 L592.81 133.63 L594.09 133.94 L595.38 134.03 L596.68 133.97 L598 134.52 L599.24 134.41 L600.55 134.98 L601.89 135.47 L603.25 135.9 L604.61 136.18 L605.94 136.72 L607.23 137.03 L608.45 137.43 L609.59 137.82 L610.61 138.27 L611.5 138.47 L613.63 139.03 L614.76 139.46 L616 139.84 L617.41 140 L618.98 140.28 L620.43 140.72 L621.5 141.73 L622.2 146.53 L622.3 152 L623 159 L623.6 161.5 L624.4 157 L625.2 160 L626.5 152 L628 146 L629.6 145.13 L632 145.36 L633.21 145.64 L634.61 145.85 L636 146.25 L637.37 147.25 L638.74 148.77 L640 149.98 L641.53 151.39 L643 152.86 L644.89 154.81 L646.5 157.26 L647.06 161.86 L647.3 168 L647.62 173.45 L647.96 179.6 L648.3 185 L648.76 191.39 L649.3 195.3 L651 192.39 L653 189.61 L654.5 183 L656 176.5 L658 174.43 L660 172.91 L661.44 171.1 L663 169.43 L664.56 167.92 L666 167.09 L668 168" fill="none" stroke="#a346f6" stroke-width="1.05" stroke-linejoin="round"/>
<path d="M495 82.9 L495.77 82.73 L496.8 83.09 L498.02 83.11 L499.38 83.07 L500.81 82.98 L502.27 83.38 L503.68 83.44 L505 83.31 L506.28 83.34 L507.59 83.22 L508.93 83.11 L510.25 83.36 L511.54 83.51 L512.78 83.22 L513.94 83.67 L515 83.34 L516.51 83.3 L517.85 83.11 L519.03 83.6 L520.08 83.4 L521 83.53 L522.58 84.05 L523.7 84.22 L526 82.9 L526.9 82.77 L527.93 82.34 L529.12 82.66 L530.47 82.13 L532 81.79 L533.08 82.05 L534.26 81.5 L535.53 81.85 L536.86 81.42 L538.22 81.33 L539.58 81.05 L540.92 80.97 L542.2 80.61 L543.41 80.33 L544.57 80.62 L545.71 80.03 L546.84 80.13 L548.01 79.56 L549.24 79.77 L550.56 79.48 L552 79.15 L553.15 78.97 L554.4 78.65 L555.73 78.52 L557.1 77.93 L558.51 77.92 L559.93 77.9 L561.32 77.31 L562.68 77.54 L563.98 77.33 L565.19 76.88 L566.3 76.72 L567.85 76.6 L569.23 76.43 L570.49 76.7 L571.66 76.27 L572.78 76.01 L573.88 76.04 L575 76.43 L576.27 76.65 L577.45 76.45 L578.59 76.58 L579.74 76.77 L580.96 77.07 L582.3 76.93 L583.38 77.31 L584.5 77.42 L585.66 77.62 L586.86 77.51 L588.09 77.68 L589.36 77.98 L590.66 78.53 L592 78.41 L593.13 78.75 L594.32 78.77 L595.57 78.84 L596.85 79.03 L598.14 79.7 L599.41 79.91 L600.66 79.95 L601.85 80.3 L602.97 80.57 L604 80.92 L605.55 81.48 L606.94 81.94 L608.22 82.77 L609.39 83.42 L610.48 83.91 L611.5 84.51 L613.18 85.16 L614.53 85.69 L616 86.22 L617.44 86.66 L619.04 86.53 L620.52 86.9 L621.6 88.29 L622.26 93.78 L622.3 100 L623 107 L623.6 109.5 L624.4 106.5 L625.2 108.58 L626.5 100 L628 94.5 L629.6 93.29 L632 94.3 L633.21 94.19 L634.61 94.35 L636 94.74 L637.37 95.66 L638.74 96.75 L640 97.87 L641.5 99.4 L643 101.12 L644.38 102.18 L645.87 103.26 L647 104.99 L647.61 109.31 L647.8 115 L648.04 119.85 L648.26 125.26 L648.5 130 L649.3 139 L651 135.93 L653 134.14 L654.5 132.51 L655.5 128.5 L657 126.07 L658.41 123.86 L660 121.91 L661.5 120.68 L663 119.59 L664.56 118.74 L666 118.33 L668 120.2" fill="none" stroke="#5f30c6" stroke-width="1.05" stroke-linejoin="round"/>
<text transform="translate(541 51.4) scale(1.07 1)" font-size="12" fill="#9d3ff5" text-anchor="start" font-weight="normal"><tspan>OH group</tspan></text>
<text transform="translate(541 65.5) scale(1.07 1)" font-size="12" fill="#9d3ff5" text-anchor="start" font-weight="normal"><tspan>3656 cm</tspan><tspan font-size="6.96" dy="-4.32">-1</tspan></text>
<line x1="538.6" y1="56.7" x2="528.3" y2="72.5" stroke="#9d3ff5" stroke-width="1"/>
<path d="M526.6 75.4 L526.3 70.8 L529.8 72.9 Z" fill="#9d3ff5"/>
<text transform="translate(539.8 101.6) scale(1.07 1)" font-size="12" fill="#6c2fa0" text-anchor="middle" font-weight="normal"><tspan>CO + H</tspan><tspan font-size="7.68" dy="4.56">2</tspan><tspan dy="-4.56">O</tspan></text>
<text transform="translate(539.8 116.1) scale(1.07 1)" font-size="12" fill="#6c2fa0" text-anchor="middle" font-weight="normal"><tspan>300 </tspan><tspan font-size="6.6" dy="-4.8">o</tspan><tspan dy="4.8">C</tspan><tspan>; 120 min</tspan></text>
<text transform="translate(537.3 155.2) scale(1.07 1)" font-size="12" fill="#9d3ff5" text-anchor="middle" font-weight="normal"><tspan>CO + H</tspan><tspan font-size="7.68" dy="4.56">2</tspan><tspan dy="-4.56">O</tspan></text>
<text transform="translate(536.9 170) scale(1.07 1)" font-size="12" fill="#9d3ff5" text-anchor="middle" font-weight="normal"><tspan>300 </tspan><tspan font-size="6.6" dy="-4.8">o</tspan><tspan dy="4.8">C</tspan><tspan>; 63 min</tspan></text>
<text transform="translate(536 204.7) scale(1.07 1)" font-size="12" fill="#2f6797" text-anchor="middle" font-weight="normal"><tspan>CO</tspan></text>
<text transform="translate(536.2 219) scale(1.07 1)" font-size="12" fill="#2f6797" text-anchor="middle" font-weight="normal"><tspan>300 </tspan><tspan font-size="6.6" dy="-4.8">o</tspan><tspan dy="4.8">C</tspan><tspan>; 60 min</tspan></text>
<text transform="translate(534.3 256.3) scale(1.07 1)" font-size="12" fill="#3d8ed0" text-anchor="middle" font-weight="normal"><tspan>CO</tspan></text>
<text transform="translate(534.3 270.9) scale(1.07 1)" font-size="12" fill="#3d8ed0" text-anchor="middle" font-weight="normal"><tspan>300 </tspan><tspan font-size="6.6" dy="-4.8">o</tspan><tspan dy="4.8">C</tspan><tspan>; 3 min</tspan></text>
<rect x="31.5" y="405.5" width="172.5" height="298" fill="none" stroke="#666666" stroke-width="1"/>
<line x1="56.5" y1="703.5" x2="56.5" y2="708.5" stroke="#666666" stroke-width="1"/>
<text x="58.8" y="721.6" font-size="13.8" fill="#000" text-anchor="middle" font-weight="bold"><tspan>2400</tspan></text>
<line x1="105.3" y1="703.5" x2="105.3" y2="708.5" stroke="#666666" stroke-width="1"/>
<text x="107" y="721.6" font-size="13.8" fill="#000" text-anchor="middle" font-weight="bold"><tspan>2200</tspan></text>
<line x1="154.1" y1="703.5" x2="154.1" y2="708.5" stroke="#666666" stroke-width="1"/>
<text x="156.4" y="721.6" font-size="13.8" fill="#000" text-anchor="middle" font-weight="bold"><tspan>2000</tspan></text>
<line x1="203" y1="703.5" x2="203" y2="708.5" stroke="#666666" stroke-width="1"/>
<text x="205.3" y="721.6" font-size="13.8" fill="#000" text-anchor="middle" font-weight="bold"><tspan>1800</tspan></text>
<text x="126.3" y="740.3" font-size="14.3" fill="#000" text-anchor="middle" font-weight="bold"><tspan>Wavenumber (cm</tspan><tspan font-size="8.29" dy="-5.15">-1</tspan><tspan dy="5.15">)</tspan></text>
<text transform="translate(18 543.7) rotate(-90)" font-size="14.3" fill="#000" text-anchor="middle" font-weight="bold"><tspan>Transmittance (%)</tspan></text>
<rect x="262.5" y="405.5" width="170.5" height="297.5" fill="none" stroke="#666666" stroke-width="1"/>
<line x1="287.3" y1="703" x2="287.3" y2="708" stroke="#666666" stroke-width="1"/>
<text x="290" y="721.8" font-size="13.8" fill="#000" text-anchor="middle" font-weight="bold"><tspan>2400</tspan></text>
<line x1="335.4" y1="703" x2="335.4" y2="708" stroke="#666666" stroke-width="1"/>
<text x="338" y="721.8" font-size="13.8" fill="#000" text-anchor="middle" font-weight="bold"><tspan>2200</tspan></text>
<line x1="383.8" y1="703" x2="383.8" y2="708" stroke="#666666" stroke-width="1"/>
<text x="386.5" y="721.8" font-size="13.8" fill="#000" text-anchor="middle" font-weight="bold"><tspan>2000</tspan></text>
<line x1="432.1" y1="703" x2="432.1" y2="708" stroke="#666666" stroke-width="1"/>
<text x="434.8" y="721.8" font-size="13.8" fill="#000" text-anchor="middle" font-weight="bold"><tspan>1800</tspan></text>
<text x="359.2" y="739.4" font-size="14.3" fill="#000" text-anchor="middle" font-weight="bold"><tspan>Wavenumber (cm</tspan><tspan font-size="8.29" dy="-5.15">-1</tspan><tspan dy="5.15">)</tspan></text>
<text transform="translate(248.4 544) rotate(-90)" font-size="14.3" fill="#000" text-anchor="middle" font-weight="bold"><tspan>Transmittance (%)</tspan></text>
<rect x="489.5" y="406.5" width="178" height="296" fill="none" stroke="#666666" stroke-width="1"/>
<line x1="515.3" y1="702.5" x2="515.3" y2="707.5" stroke="#666666" stroke-width="1"/>
<text x="518.5" y="721.4" font-size="13.8" fill="#000" text-anchor="middle" font-weight="bold"><tspan>2400</tspan></text>
<line x1="565.7" y1="702.5" x2="565.7" y2="707.5" stroke="#666666" stroke-width="1"/>
<text x="569" y="721.4" font-size="13.8" fill="#000" text-anchor="middle" font-weight="bold"><tspan>2200</tspan></text>
<line x1="616" y1="702.5" x2="616" y2="707.5" stroke="#666666" stroke-width="1"/>
<text x="619.3" y="721.4" font-size="13.8" fill="#000" text-anchor="middle" font-weight="bold"><tspan>2000</tspan></text>
<line x1="666.5" y1="702.5" x2="666.5" y2="707.5" stroke="#666666" stroke-width="1"/>
<text x="669.7" y="721.4" font-size="13.8" fill="#000" text-anchor="middle" font-weight="bold"><tspan>1800</tspan></text>
<text x="589.5" y="739.7" font-size="14.3" fill="#000" text-anchor="middle" font-weight="bold"><tspan>Wavenumber (cm</tspan><tspan font-size="8.29" dy="-5.15">-1</tspan><tspan dy="5.15">)</tspan></text>
<text transform="translate(479.6 547.3) rotate(-90)" font-size="14.3" fill="#000" text-anchor="middle" font-weight="bold"><tspan>Transmittance (%)</tspan></text>
<path d="M32 540.9 L32.76 541.28 L33.82 541.82 L35.08 542.81 L36.4 543.51 L37.68 544.12 L38.8 543.86 L39.94 545.78 L40.98 545.81 L41.98 546.62 L42.97 547.27 L44 549.02 L45.1 549.48 L46.23 550.93 L47.36 552.7 L48.46 553.89 L49.5 554.25 L50.67 552.7 L51.75 551.63 L52.83 550.69 L54 550.09 L55.11 549.62 L56.34 548.3 L57.58 547.44 L58.67 546.24 L59.5 546.71 L60.17 548.39 L60.33 552.17 L60.5 560 L60.58 562.89 L60.66 566.22 L60.74 569.93 L60.81 573.96 L60.89 578.25 L60.97 582.72 L61.05 587.32 L61.13 591.98 L61.21 596.64 L61.3 601.24 L61.4 605.72 L61.5 610 L61.61 614.23 L61.72 618.56 L61.83 622.97 L61.94 627.41 L62.06 631.85 L62.19 636.25 L62.31 640.58 L62.44 644.81 L62.58 648.91 L62.72 652.82 L62.86 656.53 L63 660 L63.27 665.53 L63.56 670.69 L63.87 675.44 L64.19 679.77 L64.49 683.65 L64.76 687.07 L65 690 L66 697.5 L66.46 694.98 L66.98 690.24 L67.5 685 L67.88 680.97 L68.26 676.53 L68.64 672.07 L69 668 L69.46 662.63 L69.9 657.7 L70.3 655 L71.3 662 L71.63 658.78 L71.95 653.44 L72.3 650 L73.5 655 L73.77 652.76 L74.05 649.28 L74.35 644.92 L74.66 640.04 L75 635 L75.26 631.28 L75.53 627.3 L75.82 623.1 L76.12 618.73 L76.41 614.23 L76.71 609.64 L77 605 L77.25 600.81 L77.51 596.41 L77.77 591.88 L78.02 587.3 L78.28 582.74 L78.53 578.29 L78.77 574.02 L79 570 L79.29 564.84 L79.55 559.77 L79.81 554.92 L80.06 550.45 L80.32 546.5 L80.6 543.2 L81.51 537.72 L82.5 535 L83.47 532.03 L84.7 530.02 L85.55 528.95 L86.54 528.66 L87.6 528.03 L88.7 527.21 L89.71 526.07 L90.69 525.21 L91.88 524.13 L93.5 524.37 L94.33 523.87 L95.28 524.02 L96.31 524.04 L97.41 523.21 L98.56 522.96 L99.71 523.21 L100.86 524.15 L101.98 523.98 L103.03 523.39 L104 523.91 L105.28 523.12 L106.49 523.66 L107.65 522.22 L108.76 522.97 L109.83 523.23 L110.87 522.5 L111.9 522.94 L113.04 523.21 L114.11 524.42 L115.14 525.59 L116.16 527.17 L117.2 528.56 L118.3 530.9 L119.28 532.87 L120.27 536.44 L121.28 539.5 L122.3 542.41 L123.35 546.24 L124.41 547.27 L125.5 548.45 L126.47 548.62 L127.47 547.18 L128.48 545.61 L129.51 542.76 L130.55 540.62 L131.6 536.87 L132.65 535.55 L133.7 533.05 L134.76 531.31 L135.85 530.12 L136.94 528.2 L138.04 525.83 L139.14 524.33 L140.22 523.03 L141.27 523.33 L142.3 522.77 L143.43 523.04 L144.53 525.09 L145.61 526.62 L146.67 529.55 L147.72 532.64 L148.76 535.99 L149.8 538.14 L150.82 540.04 L151.8 543.13 L152.77 545.22 L153.75 548.5 L154.74 551.04 L155.79 551.01 L156.9 552.25 L157.8 550.71 L158.7 549.1 L159.61 546.9 L160.56 544.24 L161.53 541.27 L162.54 538.13 L163.6 534.94 L164.72 531.85 L165.9 529 L166.84 527.68 L167.82 524.66 L168.85 523.19 L169.91 521.29 L171 517.84 L172.11 516.11 L173.23 514.1 L174.36 512.2 L175.48 509.22 L176.6 507.79 L177.71 505.59 L178.8 503.74 L179.9 501.43 L181.05 499.38 L182.23 496.7 L183.42 494.28 L184.61 491.85 L185.79 489.52 L186.93 487.44 L188.04 485.47 L189.08 483.48 L190.05 481.49 L190.93 480.51 L191.7 480.27 L193.38 477.77 L194.39 479.09 L195.13 480.31 L196 481.63 L197.1 483.74 L198.22 486.33 L199.3 489.84 L200.3 494.6 L200.84 498.37 L201.39 503.09 L201.92 508.33 L202.41 513.65 L202.85 518.63 L203.22 522.82 L203.5 525.8" fill="none" stroke="#4a9ad6" stroke-width="1.05" stroke-linejoin="round"/>
<path d="M32 533.3 L32.98 532.18 L34.5 531.44 L35.43 532.14 L36.48 531.92 L37.62 533.58 L38.8 535.1 L39.78 536.11 L40.8 535.92 L41.86 537.95 L42.93 539.08 L44 540.01 L45.1 542.06 L46.23 542.61 L47.36 543.72 L48.46 545.57 L49.5 545.44 L50.67 544.42 L51.75 543.24 L52.83 542.15 L54 540.19 L55.11 540.34 L56.34 539.59 L57.58 538.21 L58.67 538.51 L59.5 539.04 L60.28 540.91 L60.5 550 L60.58 552.82 L60.66 556.11 L60.74 559.8 L60.81 563.82 L60.89 568.11 L60.97 572.6 L61.05 577.22 L61.13 581.91 L61.21 586.6 L61.3 591.22 L61.4 595.71 L61.5 600 L61.61 604.23 L61.72 608.56 L61.83 612.97 L61.94 617.41 L62.06 621.85 L62.19 626.25 L62.31 630.58 L62.44 634.81 L62.58 638.91 L62.72 642.82 L62.86 646.53 L63 650 L63.27 655.53 L63.56 660.67 L63.87 665.41 L64.19 669.73 L64.49 673.62 L64.76 677.04 L65 680 L65.53 686.69 L66 688 L66.46 685.3 L66.98 680.26 L67.5 675 L68.01 669.96 L68.51 664.7 L69 660 L69.68 653.62 L70.3 650 L71.3 657 L71.63 652.78 L71.95 646.11 L72.3 642 L72.87 646.31 L73.5 650 L73.77 647.95 L74.05 644.5 L74.35 640.06 L74.66 635.09 L75 630 L75.26 626.33 L75.53 622.45 L75.82 618.37 L76.12 614.08 L76.41 609.59 L76.71 604.9 L77 600 L77.2 596.34 L77.41 592.42 L77.61 588.31 L77.82 584.07 L78.02 579.78 L78.23 575.51 L78.43 571.32 L78.63 567.3 L78.82 563.5 L79 560 L79.29 554.63 L79.55 549.61 L79.81 544.97 L80.06 540.72 L80.32 536.89 L80.6 533.5 L81.51 526.48 L82.5 522 L83.47 518.33 L84.7 515.8 L85.55 515.05 L86.54 514.73 L87.6 513.45 L88.7 512.73 L89.71 513.2 L90.69 511.08 L91.88 509.9 L93.5 509.99 L94.33 509.47 L95.28 508.25 L96.31 508.28 L97.41 507.92 L98.56 507.73 L99.71 507.11 L100.86 507.68 L101.98 507.14 L103.03 507.06 L104 506.53 L105.28 506.02 L106.49 505.41 L107.65 506.15 L108.76 505.51 L109.83 504.93 L110.87 504.2 L111.9 504.47 L113.04 505.18 L114.11 506.64 L115.14 507.69 L116.16 509.59 L117.2 511.05 L118.3 512.44 L119.28 514.4 L120.27 515.6 L121.28 517.17 L122.3 518.42 L123.35 519.81 L124.41 520.83 L125.5 520.11 L126.47 519.12 L127.45 518.58 L128.44 516.88 L129.45 515.65 L130.48 512.65 L131.53 511.76 L132.6 508.52 L133.7 507.56 L134.69 505.83 L135.68 503.84 L136.67 502.79 L137.69 500.59 L138.73 497.98 L139.8 496.9 L140.92 495.83 L142.08 494.15 L143.3 493.98 L144.26 495.14 L145.25 496.29 L146.27 497.31 L147.31 498.99 L148.39 501.04 L149.48 502.65 L150.58 505.48 L151.7 507.3 L152.82 507.92 L153.95 508.1 L155.08 508.93 L156.2 509.05 L157.17 507.54 L158.17 505.93 L159.18 503.86 L160.21 501.41 L161.25 498.65 L162.29 495.66 L163.33 492.53 L164.37 489.33 L165.39 486.14 L166.4 483.04 L167.39 480.11 L168.36 477.42 L169.3 475.06 L170.2 473.1 L171.42 470.63 L172.6 468.46 L173.74 467.06 L174.86 466.58 L175.94 465.35 L176.99 463.88 L178.02 463.46 L179.03 462.74 L180.02 462.04 L181 460.7 L182.21 458.5 L183.41 457.39 L184.58 455.86 L185.71 454.12 L186.79 452.37 L187.8 450.7 L188.75 449.37 L189.6 448.93 L190.98 447.31 L192.02 446.84 L192.93 446.16 L193.9 446.69 L194.95 448.17 L195.99 450.39 L197.05 453.07 L198.2 456.55 L198.95 460.38 L199.8 464.72 L200.68 469.6 L201.55 474.59 L202.34 479.27 L203.01 483.21 L203.5 486" fill="none" stroke="#3a6f9d" stroke-width="1.05" stroke-linejoin="round"/>
<path d="M32 494.6 L32.85 493.78 L34.09 493.93 L35.43 494.08 L36.6 495.32 L37.76 495.15 L38.78 496.38 L40 496.28 L40.9 497.71 L41.89 499.07 L42.94 499.33 L44.05 500.97 L45.2 501.79 L46.25 501.8 L47.39 502.23 L48.57 504.73 L49.72 504.64 L50.79 505.22 L51.7 506.92 L53.01 506.55 L53.97 504.99 L55 503.82 L56.02 501.6 L57.14 500.47 L58.19 500.12 L59 501.72 L59.69 502.25 L60 510 L60.08 512.73 L60.16 515.96 L60.24 519.62 L60.31 523.63 L60.39 527.93 L60.47 532.44 L60.55 537.09 L60.63 541.81 L60.71 546.54 L60.8 551.19 L60.9 555.7 L61 560 L61.11 564.21 L61.22 568.51 L61.33 572.85 L61.44 577.22 L61.56 581.59 L61.69 585.94 L61.81 590.23 L61.94 594.44 L62.08 598.55 L62.22 602.53 L62.36 606.36 L62.5 610 L62.73 615.26 L62.96 620.37 L63.21 625.28 L63.46 629.94 L63.72 634.29 L63.98 638.29 L64.24 641.88 L64.5 645 L65.59 653.38 L66.6 656 L67.34 652.44 L68 645 L68.3 641.42 L68.6 637.17 L68.91 632.71 L69.21 628.5 L69.5 625 L70.18 617.94 L70.8 615 L71.16 618.96 L71.48 625.48 L71.8 628 L72 625.26 L72.19 620.05 L72.39 613.91 L72.59 608.38 L72.8 605 L74 610 L74.27 607.76 L74.55 604.28 L74.85 599.92 L75.16 595.04 L75.5 590 L75.76 586.42 L76.03 582.76 L76.31 578.92 L76.6 574.82 L76.89 570.36 L77.19 565.45 L77.5 560 L77.68 556.4 L77.87 552.37 L78.06 548.02 L78.25 543.43 L78.44 538.7 L78.64 533.91 L78.83 529.17 L79.03 524.57 L79.22 520.2 L79.42 516.15 L79.61 512.52 L79.8 509.4 L80.35 502.51 L80.87 498.07 L81.42 494.95 L82 492 L83.24 486.91 L84.7 483.5 L85.59 481.57 L86.57 480.61 L87.61 479.57 L88.7 478.82 L89.73 478.06 L90.74 477.89 L91.93 477.03 L93.5 476.71 L94.38 477.43 L95.36 476.1 L96.44 476.9 L97.58 476.63 L98.75 476.22 L99.94 476.07 L101.11 476.18 L102.24 475.69 L103.3 474.89 L104.45 474.63 L105.59 473.95 L106.71 473.55 L107.81 473.8 L108.89 472.4 L109.93 471.45 L110.94 471.87 L111.9 472.47 L113.08 472.57 L114.17 474.07 L115.19 474.58 L116.19 476.1 L117.21 478.52 L118.3 478.92 L119.3 480.4 L120.33 481.75 L121.39 482.7 L122.46 483.6 L123.51 484.48 L124.53 486.5 L125.5 486.28 L126.49 486.26 L127.33 484.6 L128.14 483.94 L129.03 482.22 L130.11 480.22 L131.5 478.54 L132.34 477.72 L133.26 476.39 L134.27 475.62 L135.33 475.09 L136.44 473.23 L137.59 473.17 L138.75 471.67 L139.93 470.92 L141.09 470.47 L142.23 469.6 L143.34 468.43 L144.4 468.42 L145.52 468.24 L146.64 468.88 L147.75 471.17 L148.86 471.76 L149.96 473.57 L151.04 474.55 L152.11 475.05 L153.16 477.04 L154.2 477.73 L155.21 477.41 L156.2 476.77 L157.38 476.4 L158.52 474.9 L159.63 473.5 L160.72 471.08 L161.78 469.84 L162.83 467.98 L163.86 464.63 L164.88 463.46 L165.9 461.43 L167.03 459.54 L168.13 458.48 L169.21 456.05 L170.27 455.14 L171.32 452.49 L172.38 452.52 L173.43 450.11 L174.5 448.76 L175.59 449.17 L176.7 448.21 L177.82 447.56 L178.93 447.22 L180.03 446.23 L181.1 445.45 L182.13 445.37 L183.1 445.88 L184.32 445.2 L185.46 443.26 L186.55 442.79 L187.59 442.16 L188.6 442.48 L189.6 441.16 L190.75 442.91 L191.84 442.96 L192.9 444.71 L193.94 445.77 L195 447.78 L196.1 450.92 L197.23 453.89 L198.34 457.21 L199.38 460.78 L200.3 464.5 L201.13 468.8 L201.88 473.74 L202.55 478.69 L203.1 482.99 L203.5 486" fill="none" stroke="#a346f6" stroke-width="1.05" stroke-linejoin="round"/>
<path d="M32 452.8 L32.84 451.16 L34.05 450.34 L35.3 450.41 L36.53 451.33 L37.81 451.32 L39 452.8 L40.41 457.68 L41.9 461.5 L42.88 461.46 L43.96 462.14 L45.12 460.69 L46.3 461.93 L47.29 462.65 L48.32 463.01 L49.38 465.11 L50.41 466.06 L51.4 466.44 L52.58 466.83 L53.72 463.67 L54.81 461.83 L55.8 462.29 L57.01 460.47 L58.08 459.84 L58.9 460.75 L59.49 462.34 L59.8 470 L59.87 472.7 L59.94 475.84 L60 479.38 L60.07 483.26 L60.14 487.42 L60.2 491.81 L60.26 496.38 L60.33 501.07 L60.4 505.84 L60.46 510.61 L60.53 515.35 L60.6 520 L60.66 523.73 L60.71 527.58 L60.76 531.52 L60.82 535.54 L60.87 539.63 L60.92 543.76 L60.98 547.92 L61.03 552.08 L61.09 556.24 L61.15 560.37 L61.21 564.46 L61.28 568.48 L61.35 572.42 L61.42 576.27 L61.5 580 L61.6 584.55 L61.71 589.05 L61.82 593.48 L61.94 597.85 L62.06 602.15 L62.18 606.38 L62.31 610.52 L62.44 614.59 L62.58 618.58 L62.71 622.48 L62.86 626.29 L63 630 L63.21 634.91 L63.43 639.81 L63.67 644.63 L63.91 649.3 L64.15 653.76 L64.39 657.93 L64.61 661.74 L64.82 665.12 L65 668 L65.53 675.62 L66 677 L66.46 675.04 L66.98 670.74 L67.5 665 L67.75 661.62 L68 657.74 L68.25 653.5 L68.5 649.04 L68.75 644.49 L69 640 L69.22 635.84 L69.44 631.17 L69.67 626.32 L69.89 621.64 L70.11 617.46 L70.31 614.14 L70.5 612 L71.03 615.31 L71.5 620 L71.75 616.9 L72 611.44 L72.25 606.01 L72.5 603 L72.97 608.12 L73.5 612 L73.72 609.56 L73.94 605.59 L74.19 600.62 L74.44 595.19 L74.72 589.8 L75 585 L75.31 580.78 L75.64 576.7 L75.99 572.69 L76.34 568.63 L76.68 564.43 L77 560 L77.26 556.02 L77.52 551.94 L77.77 547.76 L78.02 543.47 L78.25 539.08 L78.48 534.59 L78.7 530 L78.88 525.76 L79.05 521.24 L79.21 516.56 L79.36 511.84 L79.52 507.21 L79.67 502.78 L79.83 498.67 L80 495 L80.35 488.99 L80.71 484.16 L81.09 479.87 L81.5 475.5 L81.95 470.77 L82.42 466.05 L82.93 461.68 L83.5 458 L84.79 452.96 L86.3 449.7 L87.47 448 L88.75 447.95 L90 446.07 L91.11 445.39 L92.21 445.42 L93.5 444.87 L94.46 445.13 L95.54 444.59 L96.67 443.52 L97.78 443.01 L98.8 443.8 L99.92 444.04 L100.94 442.78 L101.95 444.09 L103 444.55 L104.12 444.65 L105.27 444.57 L106.43 445.81 L107.6 445.54 L108.78 443.55 L109.98 442.32 L111.16 439.93 L112.3 438.91 L113.4 440.02 L114.46 441.59 L115.47 443.61 L116.4 445.72 L117.74 449.28 L119.3 451.99 L120.26 452.48 L121.38 452.76 L122.6 452.46 L123.86 451.47 L125.1 450.71 L126.12 450.55 L127.15 449.24 L128.19 448.04 L129.26 445.75 L130.36 444.61 L131.5 444.73 L132.51 443.69 L133.56 443.43 L134.63 442.25 L135.72 442.49 L136.82 443.08 L137.91 442.49 L139 442.74 L140.1 441.2 L141.23 441.18 L142.37 441.28 L143.49 440.36 L144.59 440.54 L145.63 439.98 L146.6 439.23 L147.84 439.38 L148.98 441.15 L150.03 440.42 L151.03 441.11 L152 441.75 L153.14 442.84 L154.2 443.61 L155.21 443.3 L156.2 443 L157.42 441.73 L158.59 438.37 L160 435.81 L161 434.55 L162.08 432.82 L163.24 430.17 L164.51 428.69 L165.9 427.46 L166.84 427.76 L167.83 427.26 L168.88 427.35 L169.96 426.78 L171.08 425.78 L172.21 426.34 L173.35 426.43 L174.5 425.17 L175.54 424.33 L176.62 424.47 L177.73 423.89 L178.86 423.29 L179.98 422.69 L181.09 422.45 L182.17 423.3 L183.21 421.93 L184.2 422.77 L185.41 422.37 L186.6 422.76 L187.74 424.26 L188.83 424.16 L189.85 424.76 L190.82 425.99 L191.7 427.19 L193 428.31 L194.05 430.25 L195 431.47 L196 434.44 L197.1 438.01 L198.22 442.29 L199.3 447.47 L200.3 453.8 L200.72 457.31 L201.15 461.46 L201.57 466.05 L201.97 470.85 L202.36 475.64 L202.71 480.2 L203.03 484.31 L203.29 487.75 L203.5 490.3" fill="none" stroke="#8b3cf7" stroke-width="1.05" stroke-linejoin="round"/>
<line x1="125.6" y1="430.2" x2="125.6" y2="568.5" stroke="#3d7fc4" stroke-width="2.0" stroke-dasharray="3.3 3.3"/>
<line x1="157" y1="424.7" x2="157" y2="563.7" stroke="#e52a2a" stroke-width="2.0" stroke-dasharray="3.3 3.3"/>
<line x1="69.1" y1="557" x2="69.1" y2="696.4" stroke="#eaa84c" stroke-width="2.0" stroke-dasharray="3.3 3.3"/>
<text transform="translate(117.2 589.7) scale(1.07 1)" font-size="12" fill="#3d8ed0" text-anchor="middle" font-weight="normal"><tspan>CO-Pt</tspan><tspan font-size="6.96" dy="-4.32">δ+</tspan></text>
<text transform="translate(116.6 606) scale(1.07 1)" font-size="12" fill="#3d8ed0" text-anchor="middle" font-weight="normal"><tspan>2110 cm</tspan><tspan font-size="6.96" dy="-4.32">-1</tspan></text>
<text transform="translate(175.9 578) scale(1.07 1)" font-size="12" fill="#d42a2a" text-anchor="middle" font-weight="normal"><tspan>CO-Pt</tspan><tspan font-size="6.96" dy="-4.32">0</tspan></text>
<text transform="translate(175.4 592.6) scale(1.07 1)" font-size="12" fill="#d42a2a" text-anchor="middle" font-weight="normal"><tspan>1980 cm</tspan><tspan font-size="6.96" dy="-4.32">-1</tspan></text>
<text transform="translate(102.5 672.4) scale(1.07 1)" font-size="12" fill="#eaa84c" text-anchor="middle" font-weight="normal"><tspan>CO</tspan><tspan font-size="7.68" dy="4.56">2</tspan><tspan dy="-4.56"> (g)</tspan></text>
<text transform="translate(102.3 688.1) scale(1.07 1)" font-size="12" fill="#eaa84c" text-anchor="middle" font-weight="normal"><tspan>2349 cm</tspan><tspan font-size="6.96" dy="-4.32">-1</tspan></text>
<path d="M263 522.6 L263.96 522.86 L265.32 523.44 L266.9 524.25 L268.52 524.25 L270 524.78 L271.35 525.04 L272.68 525.5 L274 525.79 L275.27 526.27 L276.5 526.91 L277.93 527.71 L279.26 527.87 L280.59 528.01 L282 528.42 L283.29 528.96 L284.69 528.96 L286.09 529.06 L287.33 530 L288.3 530.19 L289.8 532.34 L290.33 537.02 L290.8 545 L290.96 548.87 L291.13 553.33 L291.29 558.28 L291.45 563.61 L291.62 569.22 L291.8 575 L291.94 579.52 L292.08 584.3 L292.22 589.27 L292.37 594.38 L292.52 599.56 L292.67 604.77 L292.83 609.93 L293 615 L293.17 620.09 L293.34 625.3 L293.51 630.55 L293.69 635.79 L293.88 640.92 L294.08 645.89 L294.28 650.6 L294.5 655 L294.9 661.89 L295.35 668.68 L295.82 674.77 L296.25 679.54 L296.6 682.4 L297.13 680.29 L297.5 672 L297.71 667.39 L297.91 661.91 L298.11 655.98 L298.3 650 L298.44 644.95 L298.57 639.5 L298.7 634.06 L298.84 629.09 L299 625 L299.48 619.06 L300 615 L300.46 609.72 L301 605 L302.6 599.5 L303.5 608 L305 600 L305.38 595.73 L305.75 590.44 L306.12 584.93 L306.5 580 L307 574.44 L307.5 569.44 L308 565 L308.75 559.38 L309.5 555 L311 550 L312.5 546 L314.3 544.33 L315.35 543.63 L316.61 543.28 L318 542.84 L319.14 543.66 L320.37 544.84 L321.62 545.69 L322.8 546.95 L324.2 548.08 L325.53 549.35 L327 550.88 L328.32 553.3 L329.77 556.36 L331.21 559.24 L332.5 561.57 L333.97 562.33 L335.26 561.77 L336.4 561.92 L337.76 565.19 L339 569 L340.41 573.25 L342 575.49 L343.31 573.86 L344.74 570.48 L346.1 567.03 L347.93 559.57 L349.6 554.9 L351.02 560.19 L352.5 567.7 L353.81 570.42 L355.24 572.28 L356.5 573.42 L358.9 572.49 L360.09 571.21 L361.47 569.5 L363 567.57 L364.3 565.94 L365.73 564.49 L367.16 563.08 L368.5 561.92 L370.05 562.08 L371.49 563.03 L373 563.81 L374.24 564.48 L375.52 564.78 L376.84 565.05 L378.2 565.5 L379.62 565.45 L381.09 565.53 L382.56 565.64 L384 565.94 L385.4 566.46 L386.78 566.76 L388.12 566.9 L389.4 567.27 L390.97 567.14 L392.46 567.22 L394 566.85 L395.2 566.69 L396.41 566.63 L397.69 566.57 L399.1 566.65 L400.36 566.95 L401.7 567.74 L403.11 568.37 L404.55 569.06 L406 569.91 L407.23 570.66 L408.49 571.25 L409.77 571.69 L411.05 572.54 L412.3 573.07 L413.5 573.31 L414.87 574.02 L416.18 574.07 L417.46 574.27 L418.72 574.71 L420 575.15 L421.3 575.36 L422.61 575.66 L423.9 575.96 L425.17 576.19 L426.4 576.52 L427.99 577 L429.6 577.52 L431.01 578.09 L432 578.2" fill="none" stroke="#4a9ad6" stroke-width="1.05" stroke-linejoin="round"/>
<path d="M263 487.1 L263.96 487.13 L265.32 488.23 L266.9 488.44 L268.52 489.37 L270 490.14 L271.35 490.78 L272.68 491.06 L274 491.63 L275.27 491.72 L276.5 492.45 L277.93 492.75 L279.26 493.37 L280.59 493.32 L282 493.7 L283.29 493.62 L284.69 493.56 L286.09 494.27 L287.33 494.49 L288.3 494.5 L289.8 497.84 L290.15 501.99 L290.43 507.5 L290.7 515 L290.82 518.92 L290.92 523.25 L291.02 527.95 L291.13 533.01 L291.24 538.38 L291.36 544.06 L291.5 550 L291.61 554.39 L291.72 559.04 L291.84 563.9 L291.96 568.92 L292.09 574.06 L292.23 579.28 L292.36 584.53 L292.51 589.76 L292.65 594.93 L292.8 600 L292.95 605.11 L293.12 610.4 L293.29 615.79 L293.46 621.2 L293.64 626.56 L293.82 631.8 L293.99 636.84 L294.17 641.6 L294.34 646.01 L294.5 650 L294.81 657.11 L295.11 663.34 L295.41 668.5 L295.7 672.45 L296 675 L297.5 668 L298.25 662 L299 655 L299.52 649.41 L300.04 643.59 L300.5 640 L301.5 645 L302 639.81 L302.5 635 L303.5 643 L303.84 639.59 L304.22 633.88 L304.61 626.97 L305 620 L305.25 615.41 L305.5 610.52 L305.75 605.44 L306 600.26 L306.25 595.08 L306.5 590 L306.75 584.88 L307 579.63 L307.25 574.38 L307.5 569.26 L307.75 564.42 L308 560 L308.38 554.13 L308.75 548.94 L309.12 544.27 L309.5 540 L310.22 532.81 L311 527 L313 518 L314.5 513 L316.3 511.4 L317.21 511.32 L318.34 511.39 L319.62 511.34 L321.01 511.39 L322.42 511.58 L323.8 511.75 L325 511.92 L326.26 512.31 L327.57 513.11 L328.87 513.56 L330.13 513.86 L331.32 514.63 L332.4 515.01 L334.02 515.75 L335.41 516.99 L336.7 517.9 L338 519.17 L339.36 520.6 L340.71 522.17 L342.01 523.95 L343.2 524.81 L344.61 524.22 L345.87 522.3 L347 521.01 L348.33 520.1 L349.6 520.07 L350.97 523.05 L352.9 525.91 L354.06 526.08 L355.42 526.48 L356.91 526.42 L358.46 526.33 L360 526.54 L361.29 526.74 L362.64 526.58 L364.01 526.4 L365.37 526.58 L366.71 526.79 L368 527.08 L369.45 527.41 L370.82 527.7 L372.18 528.72 L373.55 529.29 L375 529.83 L376.29 530.54 L377.63 531.29 L379 532.33 L380.37 532.92 L381.71 533.91 L383 534.24 L384.46 534.99 L385.85 535.41 L387.22 535.63 L388.59 535.96 L390 536.66 L391.21 536.96 L392.43 536.84 L393.66 537.29 L394.9 537.61 L396.15 537.83 L397.4 538.15 L398.64 538.33 L399.89 538.93 L401.13 539.32 L402.39 540.02 L403.68 540.49 L405 541.14 L406.17 541.71 L407.36 542.16 L408.58 542.97 L409.81 543.41 L411.05 544.11 L412.28 544.99 L413.5 545.26 L414.7 545.76 L415.88 546.01 L417.06 546.13 L418.25 546.46 L419.46 546.77 L420.71 546.72 L422 546.94 L423.25 547.08 L424.63 547.3 L426.08 547.77 L427.53 547.94 L428.92 548.24 L430.17 548.3 L431.22 548.57 L432 548.5" fill="none" stroke="#3a6f9d" stroke-width="1.05" stroke-linejoin="round"/>
<path d="M263 439.8 L263.96 440.28 L265.32 440.31 L266.9 441.11 L268.52 441.7 L270 442.69 L271.35 443.17 L272.68 443.86 L274 443.75 L275.27 444.56 L276.5 444.82 L277.93 445.74 L279.26 446.76 L280.59 447.22 L282 448.26 L283.29 449.42 L284.7 450.19 L286.1 450.82 L287.35 451.97 L288.3 452.95 L289.6 456 L289.93 460.58 L290.22 466.9 L290.5 475 L290.62 478.94 L290.72 483.1 L290.83 487.57 L290.93 492.41 L291.05 497.71 L291.17 503.55 L291.3 510 L291.39 514.14 L291.47 518.61 L291.56 523.36 L291.66 528.33 L291.76 533.48 L291.86 538.75 L291.96 544.09 L292.06 549.44 L292.17 554.77 L292.28 560 L292.39 565.1 L292.5 570 L292.63 575.28 L292.75 580.64 L292.89 586.04 L293.02 591.42 L293.16 596.75 L293.3 601.97 L293.44 607.05 L293.58 611.94 L293.72 616.59 L293.86 620.96 L294 625 L294.25 631.68 L294.5 637.59 L294.75 642.81 L295 647.41 L295.25 651.45 L295.5 655 L296.25 662.5 L297 665 L297.75 661.88 L298.5 655 L298.88 650.59 L299.26 645.31 L299.64 639.88 L300 635 L300.46 628.7 L300.9 622.96 L301.3 620 L301.82 625 L302.3 630 L302.63 625.93 L302.97 619.07 L303.3 615 L303.79 620.62 L304.3 625 L304.52 622.32 L304.75 617.76 L304.99 612.04 L305.24 605.88 L305.5 600 L305.73 595.35 L305.98 590.56 L306.23 585.62 L306.49 580.56 L306.75 575.35 L307 570 L307.21 565.22 L307.43 560.22 L307.64 555.09 L307.86 549.91 L308.07 544.78 L308.29 539.78 L308.5 535 L308.75 529.56 L309 524.15 L309.25 518.88 L309.5 513.85 L309.75 509.19 L310 505 L310.5 498.04 L311 492.52 L311.5 488 L313 480 L314.27 477.45 L316.3 476.42 L317.3 476.13 L318.46 475.86 L319.74 475.76 L321.09 476.15 L322.46 476.04 L323.8 476.14 L325.12 476.41 L326.45 477.06 L327.81 477.39 L329.18 477.96 L330.58 478.48 L332 479.01 L333.25 479.8 L334.54 480.27 L335.85 481.11 L337.17 482.01 L338.48 482.69 L339.76 483.47 L341 483.93 L342.41 484.49 L343.81 484.62 L345.19 485.01 L346.52 485.31 L347.79 485.51 L349 485.89 L350.31 486.23 L351.5 486.66 L352.62 487.18 L353.77 487.54 L355 488.15 L356.32 488.86 L357.68 489.79 L359.07 491.05 L360.51 491.99 L362 493.04 L363.3 493.8 L364.66 495.02 L366.06 495.83 L367.45 496.94 L368.81 498.17 L370.1 498.96 L371.54 499.92 L372.88 500.88 L374.2 501.82 L375.56 502.68 L377 503.39 L378.31 504.17 L379.69 505.19 L381.11 506.09 L382.52 506.97 L383.9 508.08 L385.2 508.75 L386.63 509.17 L387.95 509.79 L389.25 510.08 L390.57 510.69 L392 510.98 L393.29 511.36 L394.64 511.82 L396.04 512.42 L397.44 512.81 L398.84 513.47 L400.2 514.16 L401.53 514.55 L402.85 515.08 L404.16 516.03 L405.45 516.51 L406.73 517.06 L408 517.82 L409.21 518.72 L410.34 519.92 L411.47 521.02 L412.63 521.89 L413.89 522.7 L415.3 523.65 L416.51 524.41 L417.85 524.66 L419.27 525.22 L420.73 525.53 L422.18 525.53 L423.58 526.17 L424.86 526.54 L426 526.91 L427.6 527.67 L429.03 528.8 L430.26 529.58 L431.26 530.57 L432 531.2" fill="none" stroke="#a346f6" stroke-width="1.05" stroke-linejoin="round"/>
<path d="M263 410.8 L263.96 411.21 L265.32 411.79 L266.9 412.57 L268.52 414.03 L270 414.56 L271.35 415.42 L272.68 416.08 L274 416.73 L275.27 417.76 L276.5 418.36 L277.93 419.34 L279.26 420 L280.59 420.91 L282 421.45 L283.29 422.05 L284.71 422.96 L286.12 424.36 L287.36 424.79 L288.3 425.92 L289.4 428.05 L289.72 431.9 L290.02 437.45 L290.3 445 L290.41 448.92 L290.51 453.25 L290.6 457.95 L290.69 463.01 L290.78 468.38 L290.89 474.06 L291 480 L291.09 484.35 L291.18 488.88 L291.28 493.58 L291.38 498.44 L291.48 503.44 L291.59 508.56 L291.69 513.79 L291.8 519.12 L291.9 524.53 L292 530 L292.08 534.68 L292.16 539.54 L292.24 544.53 L292.31 549.63 L292.39 554.8 L292.47 560 L292.55 565.2 L292.63 570.37 L292.71 575.47 L292.8 580.46 L292.9 585.32 L293 590 L293.13 595.49 L293.27 600.93 L293.41 606.3 L293.56 611.58 L293.72 616.75 L293.88 621.78 L294.03 626.64 L294.19 631.31 L294.35 635.77 L294.5 640 L294.75 646.86 L295 653.56 L295.25 659.75 L295.5 665.11 L295.75 669.31 L296 672 L296.75 670.38 L297.5 662 L297.88 657.41 L298.25 651.94 L298.62 645.99 L299 640 L299.31 634.68 L299.62 628.68 L299.94 622.84 L300.23 618 L300.5 615 L301.5 622 L302 614.81 L302.5 608 L303 613.38 L303.5 618 L303.74 615.3 L303.97 610.38 L304.21 604.27 L304.5 598 L304.77 592.94 L305.06 587.47 L305.38 581.73 L305.69 575.86 L306 570 L306.26 565.12 L306.52 560.15 L306.78 555.12 L307.04 550.07 L307.28 545.02 L307.5 540 L307.69 535 L307.85 530 L308 525 L308.15 520 L308.31 515 L308.5 510 L308.72 504.85 L308.94 499.52 L309.19 494.19 L309.44 489.04 L309.72 484.25 L310 480 L310.65 472.96 L311.35 467.37 L312 463 L313.5 457 L315.2 455.72 L316.21 455.64 L317.47 454.93 L318.8 454.88 L320 454.64 L321.25 454.29 L322.39 454.59 L323.8 454.89 L324.91 454.97 L326.16 455.62 L327.49 455.89 L328.8 456.71 L330 457.08 L331.31 457.65 L332.51 457.68 L333.71 458.26 L335 459.05 L336.09 459.77 L337.2 460.46 L338.36 461.69 L339.62 462.63 L341 463.32 L342.14 463.91 L343.42 464.8 L344.78 465.38 L346.15 466.15 L347.45 466.7 L348.63 467.21 L349.6 467.51 L351.34 468.11 L352.9 468.78 L354.06 469.51 L355.42 470.16 L356.91 471.18 L358.46 472.04 L360 473.15 L361.27 473.88 L362.56 474.59 L363.88 475.4 L365.23 476.3 L366.6 477.27 L368 478.64 L369.24 479.62 L370.52 480.6 L371.83 481.42 L373.15 482.74 L374.46 483.65 L375.75 485.07 L377 486.06 L378.38 487.39 L379.7 488.66 L380.99 489.92 L382.31 491.38 L383.7 492.62 L385.2 493.4 L386.43 494.17 L387.74 494.9 L389.1 495.42 L390.49 495.82 L391.89 496.32 L393.28 496.99 L394.62 497.2 L395.9 497.68 L397.27 498.47 L398.58 498.88 L399.85 499.7 L401.1 500.04 L402.36 500.88 L403.65 501.28 L405 502.15 L406.23 502.72 L407.48 503.35 L408.76 503.81 L410.05 504.47 L411.36 505.12 L412.67 505.9 L413.99 506.82 L415.3 507.33 L416.65 508.17 L418.06 509.13 L419.49 509.82 L420.92 510.76 L422.31 511.57 L423.65 512.58 L424.88 513.13 L426 514.2 L427.6 515.11 L429.03 516.17 L430.26 517.02 L431.26 517.75 L432 518.3" fill="none" stroke="#8b3cf7" stroke-width="1.05" stroke-linejoin="round"/>
<line x1="349.7" y1="442" x2="349.7" y2="579.7" stroke="#111" stroke-width="2.0" stroke-dasharray="3.3 3.3"/>
<line x1="389" y1="465.6" x2="389" y2="586.2" stroke="#e52a2a" stroke-width="2.0" stroke-dasharray="3.3 3.3"/>
<line x1="415.2" y1="466.7" x2="415.2" y2="604.7" stroke="#e52a2a" stroke-width="2.0" stroke-dasharray="3.3 3.3"/>
<line x1="299.5" y1="536.8" x2="299.5" y2="674.5" stroke="#eaa84c" stroke-width="2.0" stroke-dasharray="3.3 3.3"/>
<text transform="translate(352.9 423) scale(1.07 1)" font-size="12" fill="#222" text-anchor="middle" font-weight="normal"><tspan>CO (g)</tspan></text>
<text transform="translate(352.7 437.7) scale(1.07 1)" font-size="12" fill="#222" text-anchor="middle" font-weight="normal"><tspan>2143 cm</tspan><tspan font-size="6.96" dy="-4.32">-1</tspan></text>
<text transform="translate(403.5 459.1) scale(1.07 1)" font-size="12" fill="#d42a2a" text-anchor="middle" font-weight="normal"><tspan>CO-Pt</tspan><tspan font-size="6.96" dy="-4.32">0</tspan></text>
<text transform="translate(363.3 603.1) scale(1.07 1)" font-size="12" fill="#d42a2a" text-anchor="middle" font-weight="normal"><tspan>1995 cm</tspan><tspan font-size="6.96" dy="-4.32">-1</tspan></text>
<text transform="translate(401.9 622.8) scale(1.07 1)" font-size="12" fill="#d42a2a" text-anchor="middle" font-weight="normal"><tspan>1870 cm</tspan><tspan font-size="6.96" dy="-4.32">-1</tspan></text>
<text transform="translate(333 653) scale(1.07 1)" font-size="12" fill="#eaa84c" text-anchor="middle" font-weight="normal"><tspan>CO</tspan><tspan font-size="7.68" dy="4.56">2</tspan><tspan dy="-4.56"> (g)</tspan></text>
<text transform="translate(332.6 667.6) scale(1.07 1)" font-size="12" fill="#eaa84c" text-anchor="middle" font-weight="normal"><tspan>2349 cm</tspan><tspan font-size="6.96" dy="-4.32">-1</tspan></text>
<path d="M490 516.1 L490.81 516.43 L491.96 516.22 L493.3 516.63 L494.69 516.8 L496 517.23 L497.2 517.12 L498.39 517.33 L499.6 517.57 L500.85 517.62 L502.2 518.01 L503.41 518.06 L504.7 518.02 L506.03 517.71 L507.38 518.19 L508.71 517.99 L510 518.05 L511.31 518.03 L512.66 517.99 L514.01 518.18 L515.27 517.87 L516.39 517.9 L517.3 518.55 L519.4 521.44 L520.23 527.75 L521 535 L521.79 541.02 L522.6 546.2 L524.3 553 L525.9 556.94 L527.3 550 L528.7 540.9 L530.2 548.4 L531.72 548.9 L533.4 548.1 L534.86 546.56 L536.2 543.98 L538.5 535 L540.9 526.9 L542.17 524.48 L543.5 522.93 L544.83 521.87 L546.3 521.6 L547.46 521.52 L548.73 521.54 L550 521.74 L551.24 522.03 L552.5 522.08 L553.8 522.19 L555.16 522.46 L556.57 522.85 L558 522.93 L559.52 523.34 L561.06 523.49 L562.4 523.7 L563.8 523.1 L565 522.46 L566.33 522.01 L567.8 522.18 L568.96 523.29 L570.23 524.61 L571.5 525.88 L572.7 527.25 L573.91 528.36 L575.3 529.09 L576.56 529.14 L577.97 529.09 L579.39 529.07 L580.7 528.9 L582.18 529.09 L583.53 529.52 L585 529.93 L586.25 530.48 L587.56 530.98 L588.92 531.85 L590.3 532.5 L591.78 533.36 L593.36 534.36 L594.83 535.42 L596 536.57 L598 540.47 L599.21 544.45 L600.62 550.05 L601.8 558.3 L602.11 562.32 L602.37 566.86 L602.58 571.83 L602.76 577.14 L602.93 582.71 L603.1 588.43 L603.29 594.23 L603.5 600 L603.69 604.75 L603.88 609.78 L604.08 615 L604.29 620.33 L604.49 625.69 L604.7 630.99 L604.91 636.16 L605.11 641.1 L605.31 645.74 L605.5 650 L605.81 656.67 L606.1 663.05 L606.39 668.89 L606.68 673.95 L606.98 677.97 L607.3 680.7 L609.5 674 L610.76 670.69 L612 668.11 L614 667.53 L616.3 666.67 L617.34 665.1 L618.54 662.78 L620 659.97 L621.07 657.93 L622.28 655.7 L623.56 653.08 L624.83 650.28 L626 647.61 L627.32 643.91 L628.55 639.96 L629.76 635.93 L631 632 L632.27 628.14 L633.55 624.27 L634.85 620.52 L636.2 617 L637.61 613.73 L639.07 610.83 L640.54 607.94 L642 605.02 L643.46 602.2 L644.94 599.35 L646.38 596.6 L647.7 594.08 L649.23 590.68 L650.6 587.34 L652 584.11 L653.56 580.48 L655.14 576.81 L656.6 573.5 L658.4 570.35 L660 567.4 L661.46 564.26 L663 562.01 L664.41 562 L665.93 562.86 L667 563.4" fill="none" stroke="#4a9ad6" stroke-width="1.05" stroke-linejoin="round"/>
<path d="M490 476.3 L490.81 476.59 L491.96 477.06 L493.3 477.22 L494.69 477.74 L496 478.22 L497.2 478.34 L498.39 478.77 L499.6 479.09 L500.85 479.47 L502.2 479.37 L503.41 479.68 L504.7 480.34 L506.03 480.45 L507.38 480.44 L508.71 480.9 L510 480.83 L511.31 481.11 L512.66 481.29 L514.01 481.31 L515.27 481.43 L516.39 481.86 L517.3 482.27 L519.4 485.95 L520.23 492.5 L521 500 L521.79 506.2 L522.6 511.8 L524.3 521 L525.9 526.9 L527.3 520 L528.7 510.8 L530.2 517.2 L531.72 518.4 L533.4 518.42 L534.86 517.23 L536.2 514.94 L537.38 510.31 L538.5 505 L540.9 496.8 L542.17 493.44 L543.5 491.04 L544.83 489.36 L546.3 488.58 L547.46 488.6 L548.73 489.15 L550 489.56 L551.24 489.75 L552.5 490.09 L553.8 490.23 L555.16 490.62 L556.57 491.18 L558 491.43 L559.52 491.97 L561.06 492.52 L562.4 492.94 L563.8 492.37 L565 491.39 L566.33 491.16 L567.8 491.37 L568.96 492.15 L570.23 493.27 L571.5 494.47 L572.7 495.54 L573.91 496.88 L575.3 497.72 L576.56 498.41 L577.97 498.92 L579.39 499.42 L580.7 499.99 L582.19 500.98 L583.55 502.19 L585 503.42 L586.16 504.78 L587.35 506.37 L588.64 508.13 L590.1 509.68 L591.27 510.65 L592.6 511.47 L593.99 512.39 L595.36 513.52 L596.59 514.59 L597.6 516.09 L599.34 521.01 L600.4 529 L600.79 532.9 L601.16 537.29 L601.5 542.18 L601.83 547.59 L602.16 553.52 L602.5 560 L602.7 564.29 L602.9 569 L603.09 574.04 L603.29 579.29 L603.48 584.67 L603.68 590.07 L603.87 595.41 L604.08 600.57 L604.28 605.47 L604.5 610 L604.82 616.28 L605.15 622.61 L605.49 628.75 L605.84 634.44 L606.19 639.43 L606.54 643.47 L606.9 646.3 L608.19 645.6 L609.5 639.95 L610.79 637.44 L612 636.1 L614 637.53 L616.3 638.6 L617.34 636.64 L618.54 633.83 L620 630.02 L621.07 627.31 L622.28 624.21 L623.56 620.89 L624.83 617.56 L626 614.4 L627.32 610.64 L628.55 606.92 L629.76 603.34 L631 600 L632.27 596.85 L633.55 594.03 L634.85 591.56 L636.2 588.86 L637.61 586.44 L639.07 584.06 L640.54 582.09 L642 579.94 L643.46 578.27 L644.94 576.77 L646.38 575.24 L647.7 573.57 L649.23 571.15 L650.6 568.73 L652 565.94 L653.56 563 L655.14 559.91 L656.6 557.11 L658.4 553.95 L660 551.52 L661.46 549.16 L663 548.08 L664.41 548.61 L665.93 549.66 L667 550.6" fill="none" stroke="#3a6f9d" stroke-width="1.05" stroke-linejoin="round"/>
<path d="M490 442.6 L490.77 442.98 L491.8 442.69 L493.02 443.24 L494.38 443.35 L495.81 443.84 L497.27 443.86 L498.68 444.41 L500 444.33 L501.27 445.07 L502.56 445.14 L503.87 445.41 L505.17 445.89 L506.45 446.44 L507.69 446.53 L508.88 447.09 L510 447.26 L511.43 447.7 L512.83 448.12 L514.14 448.51 L515.35 448.9 L516.42 449.56 L517.3 449.86 L519.4 453.89 L519.97 458.3 L520.49 464.16 L521 470 L521.52 475.5 L522.04 480.97 L522.6 486 L523.54 492.61 L524.5 498 L526.3 504.3 L527.2 497 L528 489.2 L529.5 494.6 L531.2 491.5 L533.4 494.7 L534.79 493.53 L536.2 490.32 L537.38 484.59 L538.5 478 L539.68 472 L540.9 466.7 L542.17 462.79 L543.5 460 L544.83 458.37 L546.3 457.7 L547.46 457.65 L548.73 457.96 L550 458.51 L551.24 458.92 L552.5 459.29 L553.8 459.7 L555.16 460.1 L556.57 460.56 L558 460.88 L559.52 461.11 L561.06 461.27 L562.4 461.18 L563.8 460.57 L565 460.04 L566.33 459.69 L567.8 459.79 L568.96 460.26 L570.23 461.06 L571.5 461.92 L572.7 462.65 L573.91 463.55 L575.3 464.45 L576.56 465.46 L577.97 466.52 L579.39 467.69 L580.7 468.86 L582.11 470.3 L583.39 471.58 L585 473.21 L586.04 473.89 L587.21 474.57 L588.46 475.17 L589.74 476 L591.01 476.7 L592.2 477.33 L593.62 478.46 L595.06 479.57 L596.45 480.65 L597.69 481.8 L598.7 482.81 L600.8 488.2 L601.35 491.84 L601.91 496.31 L602.46 502.18 L603 510 L603.2 513.92 L603.4 518.43 L603.59 523.39 L603.78 528.68 L603.97 534.16 L604.16 539.7 L604.35 545.19 L604.56 550.49 L604.77 555.47 L605 560 L605.35 566.19 L605.73 572.4 L606.13 578.39 L606.53 583.92 L606.94 588.75 L607.33 592.62 L607.7 595.3 L610 588 L612 583.84 L614 584.89 L616.3 586.84 L617.34 584.73 L618.54 581.72 L620 578.1 L621.08 575.52 L622.33 572.68 L623.63 569.79 L624.89 567.11 L626 564.51 L627.4 561.17 L628.58 558.08 L630 555 L631.11 553.12 L632.34 551.06 L633.64 549.21 L634.95 547.22 L636.2 545.51 L637.68 543.34 L639.13 540.99 L640.57 539.03 L642 537.12 L643.46 535.1 L644.94 533.32 L646.38 531.69 L647.7 530.28 L649.23 528.24 L650.6 526.73 L652 524.94 L653.56 523.31 L655.14 521.61 L656.6 520.09 L658.46 518.17 L660 517.01 L662.1 516.05 L663.24 516.58 L664.68 517.09 L666.05 517.75 L667 518.3" fill="none" stroke="#a346f6" stroke-width="1.05" stroke-linejoin="round"/>
<path d="M490 406.4 L490.88 406.41 L492.11 406.73 L493.57 406.79 L495.11 407.38 L496.6 407.37 L497.9 407.83 L499.22 408.4 L500.44 408.56 L501.6 409.29 L502.76 409.64 L504 410.02 L505.32 410.56 L506.68 411.07 L508.07 411.49 L509.45 412.31 L510.8 412.45 L512.19 413.04 L513.63 413.16 L515.03 412.93 L516.29 413.35 L517.3 413.99 L519.4 419.4 L519.97 423.73 L520.49 429.19 L521 435 L521.52 441.27 L522.04 447.9 L522.6 453.8 L523.54 460.63 L524.5 466 L526.3 473.1 L527.2 468 L528 459.1 L529.5 464.5 L531.2 461.38 L533.4 463.32 L534.79 462.72 L536.2 460.17 L537.38 454.68 L538.5 448 L539.68 441.33 L540.9 435.5 L542.17 432.2 L543.5 430.11 L544.83 428.41 L546.3 427.42 L547.46 427.63 L548.73 428.01 L550 428.58 L551.24 428.86 L552.5 429.35 L553.8 429.82 L555.16 430.34 L556.57 430.96 L558 431.58 L559.52 432.26 L561.06 432.89 L562.4 433.42 L563.8 432.48 L565 431.38 L566.33 431.35 L567.8 431.78 L568.96 432.43 L570.23 433.6 L571.5 434.4 L572.7 435.56 L573.91 436.48 L575.3 437.52 L576.56 438.56 L577.97 439.66 L579.39 440.7 L580.7 441.97 L582.19 443.41 L583.55 444.96 L585 446.28 L586.19 447.12 L587.42 447.91 L588.71 448.67 L590.1 449.54 L591.34 450.41 L592.69 451.37 L594.06 452.5 L595.36 453.67 L596.5 454.88 L598.05 456.81 L599.33 458.8 L600.4 462.38 L601.05 465.75 L601.56 469.57 L602.01 474.63 L602.5 481.7 L602.74 485.87 L602.97 490.82 L603.21 496.35 L603.45 502.22 L603.69 508.21 L603.93 514.11 L604.18 519.69 L604.44 524.72 L604.7 529 L605.33 536.87 L606.01 543.17 L606.68 547.77 L607.3 550.5 L609.4 543 L610.86 540.14 L612.6 538.72 L614.01 539.18 L615.55 540.36 L616.9 540.99 L618.29 539.53 L619.5 537.56 L620.66 536.15 L622.3 533.23 L623.36 531.04 L624.64 527.76 L626.03 524.51 L627.45 521.21 L628.8 518.32 L630.1 515.88 L631.4 513.36 L632.69 511.23 L633.96 509.11 L635.2 507.5 L636.68 505.9 L638.09 505.01 L639.51 504.21 L641 503.57 L642.29 502.84 L643.65 502.47 L645.01 502.18 L646.32 501.51 L647.5 501.14 L649.14 500.01 L650.56 498.75 L652 497.51 L653.6 496.34 L655.23 495.37 L656.7 494.55 L658.44 494.78 L660 495.54 L661.57 496.56 L663.2 497.79 L664.56 498.83 L665.99 500.28 L667 501.1" fill="none" stroke="#5f30c6" stroke-width="1.05" stroke-linejoin="round"/>
<line x1="528" y1="432.3" x2="528" y2="570.8" stroke="#eaa84c" stroke-width="2.0" stroke-dasharray="3.3 3.3"/>
<line x1="580.7" y1="429.5" x2="580.7" y2="568.5" stroke="#111" stroke-width="2.0" stroke-dasharray="3.3 3.3"/>
<line x1="607.7" y1="535.5" x2="607.7" y2="691.9" stroke="#e52a2a" stroke-width="2.0" stroke-dasharray="3.3 3.3"/>
<line x1="616.3" y1="525.8" x2="616.3" y2="679.4" stroke="#e52a2a" stroke-width="2.0" stroke-dasharray="3.3 3.3"/>
<line x1="647.6" y1="490.3" x2="647.6" y2="615.7" stroke="#e52a2a" stroke-width="2.0" stroke-dasharray="3.3 3.3"/>
<text transform="translate(612.9 420.7) scale(1.07 1)" font-size="12" fill="#222" text-anchor="middle" font-weight="normal"><tspan>CO (g)</tspan></text>
<text transform="translate(612.6 435.5) scale(1.07 1)" font-size="12" fill="#222" text-anchor="middle" font-weight="normal"><tspan>2143 cm</tspan><tspan font-size="6.96" dy="-4.32">-1</tspan></text>
<text transform="translate(627.2 468.4) scale(1.07 1)" font-size="12" fill="#d42a2a" text-anchor="middle" font-weight="normal"><tspan>CO-Pt</tspan><tspan font-size="6.96" dy="-4.32">0</tspan></text>
<text transform="translate(635 487.1) scale(1.07 1)" font-size="12" fill="#d42a2a" text-anchor="middle" font-weight="normal"><tspan>1876 cm</tspan><tspan font-size="6.96" dy="-4.32">-1</tspan></text>
<text transform="translate(528.4 592.5) scale(1.07 1)" font-size="12" fill="#eaa84c" text-anchor="middle" font-weight="normal"><tspan>CO</tspan><tspan font-size="7.68" dy="4.56">2</tspan><tspan dy="-4.56"> (g)</tspan></text>
<text transform="translate(527.5 606.7) scale(1.07 1)" font-size="12" fill="#eaa84c" text-anchor="middle" font-weight="normal"><tspan>2349 cm</tspan><tspan font-size="6.96" dy="-4.32">-1</tspan></text>
<text transform="translate(575 668.4) scale(1.07 1)" font-size="12" fill="#d42a2a" text-anchor="middle" font-weight="normal"><tspan>2035 cm</tspan><tspan font-size="6.96" dy="-4.32">-1</tspan></text>
<text transform="translate(636.2 696) scale(1.07 1)" font-size="12" fill="#d42a2a" text-anchor="middle" font-weight="normal"><tspan>1995 cm</tspan><tspan font-size="6.96" dy="-4.32">-1</tspan></text>
</svg>
</body></html>
